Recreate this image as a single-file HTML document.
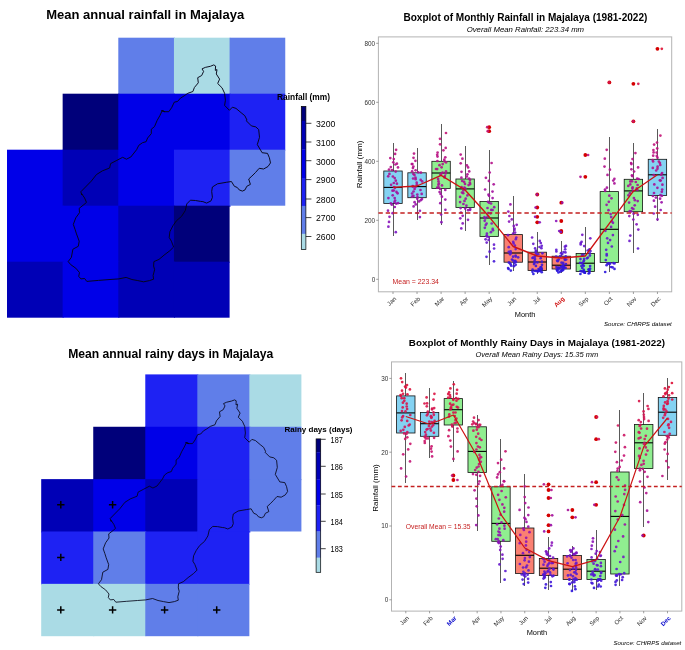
<!DOCTYPE html>
<html lang="en">
<head>
<meta charset="utf-8">
<title>Majalaya rainfall</title>
<style>
html,body{margin:0;padding:0;background:#fff;}
body{width:685px;height:650px;overflow:hidden;}
svg{display:block;font-family:"Liberation Sans", Arial, Helvetica, sans-serif;filter:blur(0.45px);}
</style>
</head>
<body>
<svg width="685" height="650" viewBox="0 0 685 650">
<rect x="0" y="0" width="685" height="650" fill="#fff"/>
<rect x="118.30" y="37.70" width="56.65" height="57.00" fill="#607EE9"/>
<rect x="173.95" y="37.70" width="56.65" height="57.00" fill="#AADBE5"/>
<rect x="229.60" y="37.70" width="55.65" height="57.00" fill="#607EE9"/>
<rect x="62.65" y="93.70" width="56.65" height="57.00" fill="#00007A"/>
<rect x="118.30" y="93.70" width="56.65" height="57.00" fill="#0000E8"/>
<rect x="173.95" y="93.70" width="56.65" height="57.00" fill="#0000E8"/>
<rect x="229.60" y="93.70" width="55.65" height="57.00" fill="#1E22F3"/>
<rect x="7.00" y="149.70" width="56.65" height="57.00" fill="#0000E8"/>
<rect x="62.65" y="149.70" width="56.65" height="57.00" fill="#0000B6"/>
<rect x="118.30" y="149.70" width="56.65" height="57.00" fill="#0000E8"/>
<rect x="173.95" y="149.70" width="56.65" height="57.00" fill="#1E22F3"/>
<rect x="229.60" y="149.70" width="55.65" height="56.00" fill="#607EE9"/>
<rect x="7.00" y="205.70" width="56.65" height="57.00" fill="#0000E8"/>
<rect x="62.65" y="205.70" width="56.65" height="57.00" fill="#0000E8"/>
<rect x="118.30" y="205.70" width="56.65" height="57.00" fill="#0000B6"/>
<rect x="173.95" y="205.70" width="55.65" height="57.00" fill="#00007A"/>
<rect x="7.00" y="261.70" width="56.65" height="56.00" fill="#0000B6"/>
<rect x="62.65" y="261.70" width="56.65" height="56.00" fill="#0000E8"/>
<rect x="118.30" y="261.70" width="56.65" height="56.00" fill="#0000B6"/>
<rect x="173.95" y="261.70" width="55.65" height="56.00" fill="#0000B6"/>
<polygon points="81.8,195.0 80.8,191.8 85.5,187.0 91.3,181.1 96.4,174.6 102.3,170.9 109.6,168.0 110.6,163.6 116.2,160.7 122.7,157.3 126.4,159.2 130.8,157.0 136.6,149.7 138.8,145.3 142.5,142.7 146.1,141.7 147.6,138.0 151.3,133.6 151.3,129.2 154.5,126.6 157.1,120.5 160.0,115.4 162.2,110.5 165.0,111.7 161.5,110.6 164.4,111.7 168.8,111.7 171.7,107.6 174.3,102.1 177.5,101.5 180.5,98.1 184.1,95.9 187.8,93.3 192.9,91.5 194.4,87.5 198.3,82.8 197.7,77.7 201.7,75.5 203.6,71.4 202.0,68.9 205.3,67.4 210.4,66.3 213.8,64.9 215.6,66.0 215.3,70.4 217.0,69.6 216.3,74.0 219.6,79.1 217.7,83.5 222.1,87.9 224.6,93.3 225.4,100.3 224.6,105.4 229.4,110.3 232.4,107.2 236.0,108.4 241.1,112.7 244.8,115.7 247.0,120.1 246.3,120.8 251.4,125.9 255.8,126.9 258.7,129.6 259.5,137.3 257.3,144.6 262.1,152.7 267.5,153.4 269.4,157.8 270.5,162.9 268.0,166.5 263.6,169.0 259.2,168.3 255.6,172.4 251.9,176.1 248.7,179.0 250.4,184.4 246.8,186.3 245.0,189.9 242.4,191.1 239.2,189.9 237.3,187.5 234.4,186.3 231.4,181.5 226.3,182.3 217.5,183.8 212.4,187.0 211.7,191.4 212.4,197.3 211.0,200.9 206.6,203.1 202.9,201.6 200.6,201.4 195.5,200.5 190.4,200.2 186.8,203.9 185.3,210.5 181.6,216.3 176.5,220.7 172.9,225.8 169.9,231.7 169.2,237.5 171.4,241.2 173.6,247.0 169.9,250.7 164.1,255.1 159.0,259.4 153.9,261.6 153.6,266.0 154.6,269.7 153.1,275.5 153.6,279.2 149.5,280.6 143.6,281.8 137.8,280.6 131.9,279.5 126.1,277.4 118.8,278.9 110.0,279.5 98.5,280.4 86.8,281.4 84.6,278.5 80.9,278.9 78.7,276.3 79.5,272.6 75.8,268.2 70.7,264.6 68.2,261.6 71.4,257.3 72.9,249.2 78.3,246.3 79.2,241.2 76.5,233.9 75.1,229.5 73.3,224.4 75.8,217.8 79.5,212.7 79.2,208.3 83.9,204.6 86.5,202.4 84.6,198.0 81.7,193.7" fill="none" stroke="#050518" stroke-width="0.95" stroke-linejoin="round"/>
<text x="145.20" y="19.20" font-size="13" font-weight="bold" font-style="normal" fill="#000" text-anchor="middle">Mean annual rainfall in Majalaya</text>
<text x="277.00" y="100.00" font-size="8.4" font-weight="bold" font-style="normal" fill="#000" text-anchor="start">Rainfall (mm)</text>
<rect x="301.3" y="106.40" width="4.6" height="14.80" fill="#00007A"/>
<rect x="301.3" y="121.00" width="4.6" height="28.80" fill="#0000B6"/>
<rect x="301.3" y="149.60" width="4.6" height="28.60" fill="#0000E8"/>
<rect x="301.3" y="178.00" width="4.6" height="28.10" fill="#1E22F3"/>
<rect x="301.3" y="205.90" width="4.6" height="28.10" fill="#607EE9"/>
<rect x="301.3" y="233.80" width="4.6" height="16.00" fill="#AADBE5"/>
<rect x="301.3" y="106.40" width="4.6" height="143.20" fill="none" stroke="#000" stroke-width="0.7"/>
<line x1="305.90000000000003" y1="123.30" x2="311.40000000000003" y2="123.30" stroke="#111" stroke-width="0.8"/>
<text transform="translate(316.00 127.10) scale(0.945 1)" x="0" y="0" font-size="9.2" fill="#000">3200</text>
<line x1="305.90000000000003" y1="142.00" x2="311.40000000000003" y2="142.00" stroke="#111" stroke-width="0.8"/>
<text transform="translate(316.00 145.80) scale(0.945 1)" x="0" y="0" font-size="9.2" fill="#000">3100</text>
<line x1="305.90000000000003" y1="160.70" x2="311.40000000000003" y2="160.70" stroke="#111" stroke-width="0.8"/>
<text transform="translate(316.00 164.50) scale(0.945 1)" x="0" y="0" font-size="9.2" fill="#000">3000</text>
<line x1="305.90000000000003" y1="179.60" x2="311.40000000000003" y2="179.60" stroke="#111" stroke-width="0.8"/>
<text transform="translate(316.00 183.40) scale(0.945 1)" x="0" y="0" font-size="9.2" fill="#000">2900</text>
<line x1="305.90000000000003" y1="199.00" x2="311.40000000000003" y2="199.00" stroke="#111" stroke-width="0.8"/>
<text transform="translate(316.00 202.80) scale(0.945 1)" x="0" y="0" font-size="9.2" fill="#000">2800</text>
<line x1="305.90000000000003" y1="217.60" x2="311.40000000000003" y2="217.60" stroke="#111" stroke-width="0.8"/>
<text transform="translate(316.00 221.40) scale(0.945 1)" x="0" y="0" font-size="9.2" fill="#000">2700</text>
<line x1="305.90000000000003" y1="236.50" x2="311.40000000000003" y2="236.50" stroke="#111" stroke-width="0.8"/>
<text transform="translate(316.00 240.30) scale(0.945 1)" x="0" y="0" font-size="9.2" fill="#000">2600</text>
<rect x="145.28" y="374.40" width="53.04" height="53.36" fill="#1E22F3"/>
<rect x="197.32" y="374.40" width="53.04" height="53.36" fill="#607EE9"/>
<rect x="249.36" y="374.40" width="52.04" height="53.36" fill="#AADBE5"/>
<rect x="93.24" y="426.76" width="53.04" height="53.36" fill="#00007A"/>
<rect x="145.28" y="426.76" width="53.04" height="53.36" fill="#0000E8"/>
<rect x="197.32" y="426.76" width="53.04" height="53.36" fill="#1E22F3"/>
<rect x="249.36" y="426.76" width="52.04" height="53.36" fill="#607EE9"/>
<rect x="41.20" y="479.12" width="53.04" height="53.36" fill="#0000B6"/>
<rect x="93.24" y="479.12" width="53.04" height="53.36" fill="#0000E8"/>
<rect x="145.28" y="479.12" width="53.04" height="53.36" fill="#0000B6"/>
<rect x="197.32" y="479.12" width="53.04" height="53.36" fill="#1E22F3"/>
<rect x="249.36" y="479.12" width="52.04" height="52.36" fill="#607EE9"/>
<rect x="41.20" y="531.48" width="53.04" height="53.36" fill="#1E22F3"/>
<rect x="93.24" y="531.48" width="53.04" height="53.36" fill="#607EE9"/>
<rect x="145.28" y="531.48" width="53.04" height="53.36" fill="#1E22F3"/>
<rect x="197.32" y="531.48" width="52.04" height="53.36" fill="#1E22F3"/>
<rect x="41.20" y="583.84" width="53.04" height="52.36" fill="#AADBE5"/>
<rect x="93.24" y="583.84" width="53.04" height="52.36" fill="#AADBE5"/>
<rect x="145.28" y="583.84" width="53.04" height="52.36" fill="#607EE9"/>
<rect x="197.32" y="583.84" width="52.04" height="52.36" fill="#607EE9"/>
<polygon points="111.2,521.5 110.2,518.5 114.6,514.0 120.0,508.5 124.8,502.4 130.3,498.9 137.1,496.2 138.1,492.1 143.3,489.4 149.4,486.2 152.9,488.0 157.0,486.0 162.4,479.1 164.5,475.0 167.9,472.6 171.3,471.6 172.7,468.2 176.1,464.1 176.1,460.0 179.1,457.5 181.6,451.8 184.3,447.0 186.4,442.5 189.0,443.6 185.6,442.5 188.4,443.6 192.5,443.6 195.2,439.8 197.7,434.6 200.7,434.0 203.4,430.9 206.8,428.9 210.3,426.4 215.0,424.7 216.4,420.9 220.1,416.5 219.5,411.8 223.2,409.7 225.0,405.9 223.5,403.6 226.7,402.2 231.4,401.1 234.6,399.9 236.2,400.8 236.0,404.9 237.6,404.2 236.9,408.3 240.1,413.1 238.3,417.2 242.4,421.3 244.7,426.4 245.4,433.0 244.7,437.7 249.2,442.2 251.9,439.4 255.4,440.5 260.2,444.6 263.6,447.3 265.6,451.4 264.9,452.1 269.7,456.9 273.8,457.8 276.6,460.3 277.3,467.5 275.3,474.4 279.8,481.9 284.8,482.6 286.6,486.7 287.6,491.5 285.3,494.9 281.2,497.2 277.0,496.5 273.6,500.3 270.2,503.8 267.2,506.5 268.8,511.6 265.4,513.3 263.8,516.7 261.3,517.8 258.3,516.7 256.5,514.4 253.8,513.3 251.1,508.8 246.3,509.6 238.1,511.0 233.3,514.0 232.6,518.1 233.3,523.6 231.9,527.0 227.8,529.0 224.4,527.7 222.3,527.5 217.5,526.6 212.7,526.4 209.3,529.8 207.9,535.9 204.5,541.4 199.7,545.5 196.3,550.3 193.6,555.8 192.9,561.2 194.9,564.6 197.0,570.1 193.6,573.5 188.1,577.6 183.3,581.7 178.5,583.8 178.3,587.9 179.2,591.3 177.8,596.8 178.3,600.2 174.4,601.6 169.0,602.6 163.5,601.6 158.0,600.5 152.6,598.5 145.7,599.9 137.5,600.5 126.7,601.3 115.8,602.2 113.8,599.5 110.3,599.9 108.3,597.5 109.0,594.0 105.6,589.9 100.8,586.5 98.4,583.8 101.5,579.7 102.8,572.2 107.9,569.4 108.7,564.6 106.2,557.8 104.9,553.7 103.2,548.9 105.6,542.8 109.0,538.0 108.7,533.9 113.1,530.5 115.5,528.4 113.8,524.3 111.0,520.2" fill="none" stroke="#050518" stroke-width="0.85" stroke-linejoin="round"/>
<text x="170.70" y="357.80" font-size="12.15" font-weight="bold" font-style="normal" fill="#000" text-anchor="middle">Mean annual rainy days in Majalaya</text>
<path d="M57.1 504.8H64.5M60.8 501.1V508.5" stroke="#000" stroke-width="1.5" fill="none"/>
<path d="M108.9 504.8H116.3M112.6 501.1V508.5" stroke="#000" stroke-width="1.5" fill="none"/>
<path d="M57.1 557.4H64.5M60.8 553.7V561.1" stroke="#000" stroke-width="1.5" fill="none"/>
<path d="M57.1 609.9H64.5M60.8 606.2V613.6" stroke="#000" stroke-width="1.5" fill="none"/>
<path d="M108.9 609.9H116.3M112.6 606.2V613.6" stroke="#000" stroke-width="1.5" fill="none"/>
<path d="M160.9 609.9H168.3M164.6 606.2V613.6" stroke="#000" stroke-width="1.5" fill="none"/>
<path d="M213.0 609.9H220.4M216.7 606.2V613.6" stroke="#000" stroke-width="1.5" fill="none"/>
<text x="284.50" y="432.30" font-size="8.0" font-weight="bold" font-style="normal" fill="#000" text-anchor="start">Rainy days (days)</text>
<rect x="316.1" y="438.90" width="4.6" height="13.50" fill="#00007A"/>
<rect x="316.1" y="452.20" width="4.6" height="27.60" fill="#0000B6"/>
<rect x="316.1" y="479.60" width="4.6" height="25.80" fill="#0000E8"/>
<rect x="316.1" y="505.20" width="4.6" height="26.50" fill="#1E22F3"/>
<rect x="316.1" y="531.50" width="4.6" height="26.40" fill="#607EE9"/>
<rect x="316.1" y="557.70" width="4.6" height="14.80" fill="#AADBE5"/>
<rect x="316.1" y="438.90" width="4.6" height="133.40" fill="none" stroke="#000" stroke-width="0.7"/>
<line x1="320.70000000000005" y1="439.30" x2="325.70000000000005" y2="439.30" stroke="#111" stroke-width="0.8"/>
<text transform="translate(330.60 442.80) scale(0.82 1)" x="0" y="0" font-size="8.9" fill="#000">187</text>
<line x1="320.70000000000005" y1="466.30" x2="325.70000000000005" y2="466.30" stroke="#111" stroke-width="0.8"/>
<text transform="translate(330.60 469.80) scale(0.82 1)" x="0" y="0" font-size="8.9" fill="#000">186</text>
<line x1="320.70000000000005" y1="494.00" x2="325.70000000000005" y2="494.00" stroke="#111" stroke-width="0.8"/>
<text transform="translate(330.60 497.50) scale(0.82 1)" x="0" y="0" font-size="8.9" fill="#000">185</text>
<line x1="320.70000000000005" y1="521.30" x2="325.70000000000005" y2="521.30" stroke="#111" stroke-width="0.8"/>
<text transform="translate(330.60 524.80) scale(0.82 1)" x="0" y="0" font-size="8.9" fill="#000">184</text>
<line x1="320.70000000000005" y1="548.70" x2="325.70000000000005" y2="548.70" stroke="#111" stroke-width="0.8"/>
<text transform="translate(330.60 552.20) scale(0.82 1)" x="0" y="0" font-size="8.9" fill="#000">183</text>
<rect x="378.4" y="36.9" width="293.30000000000007" height="254.9" fill="#fff" stroke="#b3b3b3" stroke-width="1"/>
<line x1="376.2" y1="43.30" x2="378.4" y2="43.30" stroke="#777" stroke-width="0.7"/>
<text x="375.20" y="45.60" font-size="6.4" font-weight="normal" font-style="normal" fill="#303030" text-anchor="end">800</text>
<line x1="376.2" y1="102.30" x2="378.4" y2="102.30" stroke="#777" stroke-width="0.7"/>
<text x="375.20" y="104.60" font-size="6.4" font-weight="normal" font-style="normal" fill="#303030" text-anchor="end">600</text>
<line x1="376.2" y1="161.30" x2="378.4" y2="161.30" stroke="#777" stroke-width="0.7"/>
<text x="375.20" y="163.60" font-size="6.4" font-weight="normal" font-style="normal" fill="#303030" text-anchor="end">400</text>
<line x1="376.2" y1="220.30" x2="378.4" y2="220.30" stroke="#777" stroke-width="0.7"/>
<text x="375.20" y="222.60" font-size="6.4" font-weight="normal" font-style="normal" fill="#303030" text-anchor="end">200</text>
<line x1="376.2" y1="279.30" x2="378.4" y2="279.30" stroke="#777" stroke-width="0.7"/>
<text x="375.20" y="281.60" font-size="6.4" font-weight="normal" font-style="normal" fill="#303030" text-anchor="end">0</text>
<line x1="393.00" y1="291.8" x2="393.00" y2="294.0" stroke="#777" stroke-width="0.7"/>
<text x="396.60" y="299.20" font-size="6.2" font-weight="normal" font-style="normal" fill="#303030" text-anchor="end" transform="rotate(-45 396.60 299.20)">Jan</text>
<line x1="417.04" y1="291.8" x2="417.04" y2="294.0" stroke="#777" stroke-width="0.7"/>
<text x="420.64" y="299.20" font-size="6.2" font-weight="normal" font-style="normal" fill="#303030" text-anchor="end" transform="rotate(-45 420.64 299.20)">Feb</text>
<line x1="441.08" y1="291.8" x2="441.08" y2="294.0" stroke="#777" stroke-width="0.7"/>
<text x="444.68" y="299.20" font-size="6.2" font-weight="normal" font-style="normal" fill="#303030" text-anchor="end" transform="rotate(-45 444.68 299.20)">Mar</text>
<line x1="465.12" y1="291.8" x2="465.12" y2="294.0" stroke="#777" stroke-width="0.7"/>
<text x="468.72" y="299.20" font-size="6.2" font-weight="normal" font-style="normal" fill="#303030" text-anchor="end" transform="rotate(-45 468.72 299.20)">Apr</text>
<line x1="489.16" y1="291.8" x2="489.16" y2="294.0" stroke="#777" stroke-width="0.7"/>
<text x="492.76" y="299.20" font-size="6.2" font-weight="normal" font-style="normal" fill="#303030" text-anchor="end" transform="rotate(-45 492.76 299.20)">May</text>
<line x1="513.20" y1="291.8" x2="513.20" y2="294.0" stroke="#777" stroke-width="0.7"/>
<text x="516.80" y="299.20" font-size="6.2" font-weight="normal" font-style="normal" fill="#303030" text-anchor="end" transform="rotate(-45 516.80 299.20)">Jun</text>
<line x1="537.24" y1="291.8" x2="537.24" y2="294.0" stroke="#777" stroke-width="0.7"/>
<text x="540.84" y="299.20" font-size="6.2" font-weight="normal" font-style="normal" fill="#303030" text-anchor="end" transform="rotate(-45 540.84 299.20)">Jul</text>
<line x1="561.28" y1="291.8" x2="561.28" y2="294.0" stroke="#777" stroke-width="0.7"/>
<text x="564.88" y="299.20" font-size="6.1" font-weight="bold" font-style="normal" fill="#d11414" text-anchor="end" transform="rotate(-45 564.88 299.20)">Aug</text>
<line x1="585.32" y1="291.8" x2="585.32" y2="294.0" stroke="#777" stroke-width="0.7"/>
<text x="588.92" y="299.20" font-size="6.2" font-weight="normal" font-style="normal" fill="#303030" text-anchor="end" transform="rotate(-45 588.92 299.20)">Sep</text>
<line x1="609.36" y1="291.8" x2="609.36" y2="294.0" stroke="#777" stroke-width="0.7"/>
<text x="612.96" y="299.20" font-size="6.2" font-weight="normal" font-style="normal" fill="#303030" text-anchor="end" transform="rotate(-45 612.96 299.20)">Oct</text>
<line x1="633.40" y1="291.8" x2="633.40" y2="294.0" stroke="#777" stroke-width="0.7"/>
<text x="637.00" y="299.20" font-size="6.2" font-weight="normal" font-style="normal" fill="#303030" text-anchor="end" transform="rotate(-45 637.00 299.20)">Nov</text>
<line x1="657.44" y1="291.8" x2="657.44" y2="294.0" stroke="#777" stroke-width="0.7"/>
<text x="661.04" y="299.20" font-size="6.2" font-weight="normal" font-style="normal" fill="#303030" text-anchor="end" transform="rotate(-45 661.04 299.20)">Dec</text>
<line x1="393.00" y1="143.2" x2="393.00" y2="171.0" stroke="#5a5a5a" stroke-width="1" shape-rendering="crispEdges"/>
<line x1="393.00" y1="203.4" x2="393.00" y2="235.8" stroke="#5a5a5a" stroke-width="1" shape-rendering="crispEdges"/>
<rect x="383.80" y="171.0" width="18.4" height="32.4" fill="#84D2F2" stroke="#111" stroke-width="0.8"/>
<line x1="383.80" y1="187.4" x2="402.20" y2="187.4" stroke="#000" stroke-width="1.1"/>
<line x1="417.04" y1="148.2" x2="417.04" y2="172.8" stroke="#5a5a5a" stroke-width="1" shape-rendering="crispEdges"/>
<line x1="417.04" y1="197.7" x2="417.04" y2="220.3" stroke="#5a5a5a" stroke-width="1" shape-rendering="crispEdges"/>
<rect x="407.84" y="172.8" width="18.4" height="24.9" fill="#84D2F2" stroke="#111" stroke-width="0.8"/>
<line x1="407.84" y1="186.6" x2="426.24" y2="186.6" stroke="#000" stroke-width="1.1"/>
<line x1="441.08" y1="123.9" x2="441.08" y2="161.3" stroke="#5a5a5a" stroke-width="1" shape-rendering="crispEdges"/>
<line x1="441.08" y1="188.4" x2="441.08" y2="225.0" stroke="#5a5a5a" stroke-width="1" shape-rendering="crispEdges"/>
<rect x="431.88" y="161.3" width="18.4" height="27.1" fill="#90EE90" stroke="#111" stroke-width="0.8"/>
<line x1="431.88" y1="173.0" x2="450.28" y2="173.0" stroke="#000" stroke-width="1.1"/>
<line x1="465.12" y1="146.2" x2="465.12" y2="179.0" stroke="#5a5a5a" stroke-width="1" shape-rendering="crispEdges"/>
<line x1="465.12" y1="207.5" x2="465.12" y2="230.8" stroke="#5a5a5a" stroke-width="1" shape-rendering="crispEdges"/>
<rect x="455.92" y="179.0" width="18.4" height="28.5" fill="#90EE90" stroke="#111" stroke-width="0.8"/>
<line x1="455.92" y1="188.9" x2="474.32" y2="188.9" stroke="#000" stroke-width="1.1"/>
<line x1="489.16" y1="150.2" x2="489.16" y2="201.4" stroke="#5a5a5a" stroke-width="1" shape-rendering="crispEdges"/>
<line x1="489.16" y1="236.6" x2="489.16" y2="265.3" stroke="#5a5a5a" stroke-width="1" shape-rendering="crispEdges"/>
<rect x="479.96" y="201.4" width="18.4" height="35.2" fill="#90EE90" stroke="#111" stroke-width="0.8"/>
<line x1="479.96" y1="218.0" x2="498.36" y2="218.0" stroke="#000" stroke-width="1.1"/>
<line x1="513.20" y1="195.7" x2="513.20" y2="234.6" stroke="#5a5a5a" stroke-width="1" shape-rendering="crispEdges"/>
<line x1="513.20" y1="262.2" x2="513.20" y2="271.0" stroke="#5a5a5a" stroke-width="1" shape-rendering="crispEdges"/>
<rect x="504.00" y="234.6" width="18.4" height="27.6" fill="#FA8072" stroke="#111" stroke-width="0.8"/>
<line x1="504.00" y1="253.0" x2="522.40" y2="253.0" stroke="#000" stroke-width="1.1"/>
<line x1="537.24" y1="232.0" x2="537.24" y2="252.2" stroke="#5a5a5a" stroke-width="1" shape-rendering="crispEdges"/>
<line x1="537.24" y1="270.5" x2="537.24" y2="273.5" stroke="#5a5a5a" stroke-width="1" shape-rendering="crispEdges"/>
<rect x="528.04" y="252.2" width="18.4" height="18.3" fill="#FA8072" stroke="#111" stroke-width="0.8"/>
<line x1="528.04" y1="262.0" x2="546.44" y2="262.0" stroke="#000" stroke-width="1.1"/>
<line x1="561.28" y1="240.9" x2="561.28" y2="256.2" stroke="#5a5a5a" stroke-width="1" shape-rendering="crispEdges"/>
<line x1="561.28" y1="269.0" x2="561.28" y2="273.0" stroke="#5a5a5a" stroke-width="1" shape-rendering="crispEdges"/>
<rect x="552.08" y="256.2" width="18.4" height="12.8" fill="#FA8072" stroke="#111" stroke-width="0.8"/>
<line x1="552.08" y1="265.2" x2="570.48" y2="265.2" stroke="#000" stroke-width="1.1"/>
<line x1="585.32" y1="227.0" x2="585.32" y2="253.4" stroke="#5a5a5a" stroke-width="1" shape-rendering="crispEdges"/>
<line x1="585.32" y1="271.5" x2="585.32" y2="274.0" stroke="#5a5a5a" stroke-width="1" shape-rendering="crispEdges"/>
<rect x="576.12" y="253.4" width="18.4" height="18.1" fill="#90EE90" stroke="#111" stroke-width="0.8"/>
<line x1="576.12" y1="263.2" x2="594.52" y2="263.2" stroke="#000" stroke-width="1.1"/>
<line x1="609.36" y1="137.0" x2="609.36" y2="191.6" stroke="#5a5a5a" stroke-width="1" shape-rendering="crispEdges"/>
<line x1="609.36" y1="262.5" x2="609.36" y2="272.3" stroke="#5a5a5a" stroke-width="1" shape-rendering="crispEdges"/>
<rect x="600.16" y="191.6" width="18.4" height="70.9" fill="#90EE90" stroke="#111" stroke-width="0.8"/>
<line x1="600.16" y1="229.3" x2="618.56" y2="229.3" stroke="#000" stroke-width="1.1"/>
<line x1="633.40" y1="143.2" x2="633.40" y2="179.3" stroke="#5a5a5a" stroke-width="1" shape-rendering="crispEdges"/>
<line x1="633.40" y1="211.7" x2="633.40" y2="253.4" stroke="#5a5a5a" stroke-width="1" shape-rendering="crispEdges"/>
<rect x="624.20" y="179.3" width="18.4" height="32.4" fill="#90EE90" stroke="#111" stroke-width="0.8"/>
<line x1="624.20" y1="190.9" x2="642.60" y2="190.9" stroke="#000" stroke-width="1.1"/>
<line x1="657.44" y1="128.9" x2="657.44" y2="159.3" stroke="#5a5a5a" stroke-width="1" shape-rendering="crispEdges"/>
<line x1="657.44" y1="195.4" x2="657.44" y2="221.3" stroke="#5a5a5a" stroke-width="1" shape-rendering="crispEdges"/>
<rect x="648.24" y="159.3" width="18.4" height="36.1" fill="#84D2F2" stroke="#111" stroke-width="0.8"/>
<line x1="648.24" y1="174.8" x2="666.64" y2="174.8" stroke="#000" stroke-width="1.1"/>
<circle cx="489.16" cy="127.2" r="1.9" fill="#d40000"/>
<circle cx="489.16" cy="131.2" r="1.9" fill="#d40000"/>
<circle cx="537.24" cy="194.5" r="1.9" fill="#d40000"/>
<circle cx="537.24" cy="207.5" r="1.9" fill="#d40000"/>
<circle cx="537.24" cy="216.8" r="1.9" fill="#d40000"/>
<circle cx="537.24" cy="222.3" r="1.9" fill="#d40000"/>
<circle cx="561.28" cy="202.7" r="1.9" fill="#d40000"/>
<circle cx="561.28" cy="221.0" r="1.9" fill="#d40000"/>
<circle cx="561.28" cy="231.0" r="1.9" fill="#d40000"/>
<circle cx="561.28" cy="232.0" r="1.9" fill="#d40000"/>
<circle cx="585.32" cy="155.0" r="1.9" fill="#d40000"/>
<circle cx="585.32" cy="176.8" r="1.9" fill="#d40000"/>
<circle cx="609.36" cy="82.4" r="1.9" fill="#d40000"/>
<circle cx="633.40" cy="83.8" r="1.9" fill="#d40000"/>
<circle cx="633.40" cy="121.3" r="1.9" fill="#d40000"/>
<circle cx="657.44" cy="48.8" r="1.9" fill="#d40000"/>
<circle cx="396.1" cy="149.8" r="1.35" fill="#bc1380" fill-opacity="0.9"/>
<circle cx="395.1" cy="153.9" r="1.35" fill="#ba1282" fill-opacity="0.9"/>
<circle cx="390.3" cy="158.1" r="1.35" fill="#b71285" fill-opacity="0.9"/>
<circle cx="393.8" cy="159.1" r="1.35" fill="#b71286" fill-opacity="0.9"/>
<circle cx="393.3" cy="162.3" r="1.35" fill="#b51188" fill-opacity="0.9"/>
<circle cx="396.9" cy="163.7" r="1.35" fill="#b41188" fill-opacity="0.9"/>
<circle cx="395.4" cy="164.5" r="1.35" fill="#b41189" fill-opacity="0.9"/>
<circle cx="390.8" cy="167.1" r="1.35" fill="#b2118b" fill-opacity="0.9"/>
<circle cx="398.0" cy="167.4" r="1.35" fill="#b2118b" fill-opacity="0.9"/>
<circle cx="389.0" cy="169.6" r="1.35" fill="#b1118c" fill-opacity="0.9"/>
<circle cx="392.1" cy="170.0" r="1.35" fill="#b1118d" fill-opacity="0.9"/>
<circle cx="395.7" cy="171.6" r="1.35" fill="#b0108e" fill-opacity="0.9"/>
<circle cx="389.4" cy="173.9" r="1.35" fill="#ae108f" fill-opacity="0.9"/>
<circle cx="392.9" cy="176.5" r="1.35" fill="#ad1091" fill-opacity="0.9"/>
<circle cx="388.2" cy="176.3" r="1.35" fill="#ad1091" fill-opacity="0.9"/>
<circle cx="394.7" cy="178.1" r="1.35" fill="#ac1092" fill-opacity="0.9"/>
<circle cx="395.8" cy="180.7" r="1.35" fill="#aa0f93" fill-opacity="0.9"/>
<circle cx="393.8" cy="183.0" r="1.35" fill="#a90f95" fill-opacity="0.9"/>
<circle cx="396.9" cy="183.7" r="1.35" fill="#a90f95" fill-opacity="0.9"/>
<circle cx="391.1" cy="184.8" r="1.35" fill="#a80f96" fill-opacity="0.9"/>
<circle cx="395.0" cy="187.8" r="1.35" fill="#a60f99" fill-opacity="0.9"/>
<circle cx="394.0" cy="187.1" r="1.35" fill="#a60f98" fill-opacity="0.9"/>
<circle cx="393.8" cy="190.5" r="1.35" fill="#a4109c" fill-opacity="0.9"/>
<circle cx="392.5" cy="190.7" r="1.35" fill="#a3109c" fill-opacity="0.9"/>
<circle cx="396.5" cy="191.9" r="1.35" fill="#a2109d" fill-opacity="0.9"/>
<circle cx="397.6" cy="193.3" r="1.35" fill="#a1109e" fill-opacity="0.9"/>
<circle cx="392.7" cy="195.3" r="1.35" fill="#a010a0" fill-opacity="0.9"/>
<circle cx="394.7" cy="198.1" r="1.35" fill="#9e11a3" fill-opacity="0.9"/>
<circle cx="388.4" cy="198.1" r="1.35" fill="#9e11a3" fill-opacity="0.9"/>
<circle cx="395.1" cy="200.5" r="1.35" fill="#9c11a5" fill-opacity="0.9"/>
<circle cx="394.5" cy="202.2" r="1.35" fill="#9a11a7" fill-opacity="0.9"/>
<circle cx="398.1" cy="203.1" r="1.35" fill="#9a12a8" fill-opacity="0.9"/>
<circle cx="396.3" cy="203.7" r="1.35" fill="#9912a9" fill-opacity="0.9"/>
<circle cx="390.8" cy="203.3" r="1.35" fill="#9912a8" fill-opacity="0.9"/>
<circle cx="391.8" cy="204.7" r="1.35" fill="#9812aa" fill-opacity="0.9"/>
<circle cx="394.8" cy="207.0" r="1.35" fill="#9712ac" fill-opacity="0.9"/>
<circle cx="388.0" cy="210.7" r="1.35" fill="#9413af" fill-opacity="0.9"/>
<circle cx="392.6" cy="213.2" r="1.35" fill="#9213b2" fill-opacity="0.9"/>
<circle cx="389.5" cy="216.8" r="1.35" fill="#8f14b6" fill-opacity="0.9"/>
<circle cx="389.0" cy="221.9" r="1.35" fill="#8914ba" fill-opacity="0.9"/>
<circle cx="388.4" cy="226.7" r="1.35" fill="#8215be" fill-opacity="0.9"/>
<circle cx="395.8" cy="232.2" r="1.35" fill="#7916c3" fill-opacity="0.9"/>
<circle cx="414.0" cy="153.6" r="1.35" fill="#ba1282" fill-opacity="0.9"/>
<circle cx="413.5" cy="157.8" r="1.35" fill="#b71285" fill-opacity="0.9"/>
<circle cx="415.4" cy="160.8" r="1.35" fill="#b61287" fill-opacity="0.9"/>
<circle cx="412.4" cy="164.1" r="1.35" fill="#b41189" fill-opacity="0.9"/>
<circle cx="411.8" cy="164.0" r="1.35" fill="#b41189" fill-opacity="0.9"/>
<circle cx="413.4" cy="166.5" r="1.35" fill="#b3118a" fill-opacity="0.9"/>
<circle cx="412.9" cy="168.1" r="1.35" fill="#b2118b" fill-opacity="0.9"/>
<circle cx="415.6" cy="170.3" r="1.35" fill="#b0118d" fill-opacity="0.9"/>
<circle cx="412.1" cy="171.3" r="1.35" fill="#b0108d" fill-opacity="0.9"/>
<circle cx="420.9" cy="172.6" r="1.35" fill="#af108e" fill-opacity="0.9"/>
<circle cx="418.2" cy="172.3" r="1.35" fill="#af108e" fill-opacity="0.9"/>
<circle cx="413.4" cy="173.9" r="1.35" fill="#ae108f" fill-opacity="0.9"/>
<circle cx="414.5" cy="175.1" r="1.35" fill="#ae1090" fill-opacity="0.9"/>
<circle cx="415.5" cy="177.7" r="1.35" fill="#ac1091" fill-opacity="0.9"/>
<circle cx="415.6" cy="179.2" r="1.35" fill="#ab1092" fill-opacity="0.9"/>
<circle cx="413.1" cy="178.5" r="1.35" fill="#ac1092" fill-opacity="0.9"/>
<circle cx="420.7" cy="179.9" r="1.35" fill="#ab1093" fill-opacity="0.9"/>
<circle cx="422.2" cy="181.4" r="1.35" fill="#aa0f94" fill-opacity="0.9"/>
<circle cx="416.7" cy="182.7" r="1.35" fill="#a90f95" fill-opacity="0.9"/>
<circle cx="416.9" cy="184.6" r="1.35" fill="#a80f96" fill-opacity="0.9"/>
<circle cx="412.7" cy="186.2" r="1.35" fill="#a70f97" fill-opacity="0.9"/>
<circle cx="412.9" cy="186.6" r="1.35" fill="#a70f98" fill-opacity="0.9"/>
<circle cx="415.4" cy="187.0" r="1.35" fill="#a60f98" fill-opacity="0.9"/>
<circle cx="414.6" cy="189.0" r="1.35" fill="#a5109a" fill-opacity="0.9"/>
<circle cx="420.5" cy="190.0" r="1.35" fill="#a4109b" fill-opacity="0.9"/>
<circle cx="413.5" cy="191.5" r="1.35" fill="#a3109d" fill-opacity="0.9"/>
<circle cx="412.1" cy="193.5" r="1.35" fill="#a1109f" fill-opacity="0.9"/>
<circle cx="421.7" cy="193.9" r="1.35" fill="#a1109f" fill-opacity="0.9"/>
<circle cx="417.3" cy="194.6" r="1.35" fill="#a010a0" fill-opacity="0.9"/>
<circle cx="413.4" cy="195.9" r="1.35" fill="#9f11a1" fill-opacity="0.9"/>
<circle cx="417.5" cy="197.1" r="1.35" fill="#9e11a2" fill-opacity="0.9"/>
<circle cx="412.1" cy="196.6" r="1.35" fill="#9f11a2" fill-opacity="0.9"/>
<circle cx="417.3" cy="198.8" r="1.35" fill="#9d11a4" fill-opacity="0.9"/>
<circle cx="422.0" cy="199.1" r="1.35" fill="#9d11a4" fill-opacity="0.9"/>
<circle cx="420.8" cy="200.2" r="1.35" fill="#9c11a5" fill-opacity="0.9"/>
<circle cx="419.1" cy="201.4" r="1.35" fill="#9b11a6" fill-opacity="0.9"/>
<circle cx="414.6" cy="202.2" r="1.35" fill="#9a11a7" fill-opacity="0.9"/>
<circle cx="415.7" cy="204.4" r="1.35" fill="#9912a9" fill-opacity="0.9"/>
<circle cx="413.6" cy="206.4" r="1.35" fill="#9712ab" fill-opacity="0.9"/>
<circle cx="419.9" cy="210.8" r="1.35" fill="#9413b0" fill-opacity="0.9"/>
<circle cx="417.4" cy="213.0" r="1.35" fill="#9213b2" fill-opacity="0.9"/>
<circle cx="419.9" cy="217.1" r="1.35" fill="#8f14b6" fill-opacity="0.9"/>
<circle cx="446.0" cy="133.0" r="1.35" fill="#c51475" fill-opacity="0.9"/>
<circle cx="440.0" cy="138.8" r="1.35" fill="#c21479" fill-opacity="0.9"/>
<circle cx="440.1" cy="144.3" r="1.35" fill="#bf137c" fill-opacity="0.9"/>
<circle cx="445.7" cy="147.9" r="1.35" fill="#bd137e" fill-opacity="0.9"/>
<circle cx="443.4" cy="150.3" r="1.35" fill="#bc1380" fill-opacity="0.9"/>
<circle cx="437.6" cy="152.6" r="1.35" fill="#ba1281" fill-opacity="0.9"/>
<circle cx="437.2" cy="154.8" r="1.35" fill="#b91283" fill-opacity="0.9"/>
<circle cx="437.5" cy="156.6" r="1.35" fill="#b81284" fill-opacity="0.9"/>
<circle cx="445.3" cy="157.3" r="1.35" fill="#b81284" fill-opacity="0.9"/>
<circle cx="444.3" cy="159.7" r="1.35" fill="#b61286" fill-opacity="0.9"/>
<circle cx="437.4" cy="161.0" r="1.35" fill="#b61287" fill-opacity="0.9"/>
<circle cx="444.5" cy="161.3" r="1.35" fill="#b61287" fill-opacity="0.9"/>
<circle cx="446.1" cy="162.4" r="1.35" fill="#b51188" fill-opacity="0.9"/>
<circle cx="442.7" cy="164.1" r="1.35" fill="#b41189" fill-opacity="0.9"/>
<circle cx="439.5" cy="165.2" r="1.35" fill="#b31189" fill-opacity="0.9"/>
<circle cx="441.6" cy="167.3" r="1.35" fill="#b2118b" fill-opacity="0.9"/>
<circle cx="437.2" cy="169.1" r="1.35" fill="#b1118c" fill-opacity="0.9"/>
<circle cx="436.0" cy="169.0" r="1.35" fill="#b1118c" fill-opacity="0.9"/>
<circle cx="446.0" cy="171.3" r="1.35" fill="#b0108d" fill-opacity="0.9"/>
<circle cx="442.6" cy="172.5" r="1.35" fill="#af108e" fill-opacity="0.9"/>
<circle cx="441.4" cy="173.5" r="1.35" fill="#af108f" fill-opacity="0.9"/>
<circle cx="445.6" cy="173.4" r="1.35" fill="#af108f" fill-opacity="0.9"/>
<circle cx="440.4" cy="174.5" r="1.35" fill="#ae108f" fill-opacity="0.9"/>
<circle cx="444.9" cy="176.0" r="1.35" fill="#ad1090" fill-opacity="0.9"/>
<circle cx="444.5" cy="177.4" r="1.35" fill="#ac1091" fill-opacity="0.9"/>
<circle cx="438.1" cy="178.9" r="1.35" fill="#ab1092" fill-opacity="0.9"/>
<circle cx="438.5" cy="181.4" r="1.35" fill="#aa0f94" fill-opacity="0.9"/>
<circle cx="438.9" cy="183.5" r="1.35" fill="#a90f95" fill-opacity="0.9"/>
<circle cx="438.4" cy="184.8" r="1.35" fill="#a80f96" fill-opacity="0.9"/>
<circle cx="442.0" cy="185.4" r="1.35" fill="#a80f97" fill-opacity="0.9"/>
<circle cx="438.6" cy="187.3" r="1.35" fill="#a60f98" fill-opacity="0.9"/>
<circle cx="440.2" cy="189.1" r="1.35" fill="#a5109a" fill-opacity="0.9"/>
<circle cx="437.2" cy="187.7" r="1.35" fill="#a60f99" fill-opacity="0.9"/>
<circle cx="445.3" cy="189.9" r="1.35" fill="#a4109b" fill-opacity="0.9"/>
<circle cx="439.6" cy="192.0" r="1.35" fill="#a2109d" fill-opacity="0.9"/>
<circle cx="440.6" cy="193.9" r="1.35" fill="#a1109f" fill-opacity="0.9"/>
<circle cx="441.9" cy="196.7" r="1.35" fill="#9f11a2" fill-opacity="0.9"/>
<circle cx="445.3" cy="199.6" r="1.35" fill="#9c11a5" fill-opacity="0.9"/>
<circle cx="440.3" cy="203.2" r="1.35" fill="#9912a8" fill-opacity="0.9"/>
<circle cx="445.4" cy="209.8" r="1.35" fill="#9413af" fill-opacity="0.9"/>
<circle cx="441.1" cy="214.5" r="1.35" fill="#9113b3" fill-opacity="0.9"/>
<circle cx="441.4" cy="222.2" r="1.35" fill="#8914bb" fill-opacity="0.9"/>
<circle cx="460.7" cy="154.6" r="1.35" fill="#b91283" fill-opacity="0.9"/>
<circle cx="462.4" cy="158.7" r="1.35" fill="#b71285" fill-opacity="0.9"/>
<circle cx="460.7" cy="163.3" r="1.35" fill="#b41188" fill-opacity="0.9"/>
<circle cx="466.9" cy="165.4" r="1.35" fill="#b3118a" fill-opacity="0.9"/>
<circle cx="468.1" cy="167.4" r="1.35" fill="#b2118b" fill-opacity="0.9"/>
<circle cx="469.2" cy="171.4" r="1.35" fill="#b0108d" fill-opacity="0.9"/>
<circle cx="461.5" cy="171.8" r="1.35" fill="#af108e" fill-opacity="0.9"/>
<circle cx="467.4" cy="174.3" r="1.35" fill="#ae108f" fill-opacity="0.9"/>
<circle cx="466.8" cy="176.6" r="1.35" fill="#ad1091" fill-opacity="0.9"/>
<circle cx="461.4" cy="177.7" r="1.35" fill="#ac1091" fill-opacity="0.9"/>
<circle cx="469.1" cy="178.6" r="1.35" fill="#ac1092" fill-opacity="0.9"/>
<circle cx="470.0" cy="180.0" r="1.35" fill="#ab1093" fill-opacity="0.9"/>
<circle cx="462.2" cy="181.0" r="1.35" fill="#aa0f94" fill-opacity="0.9"/>
<circle cx="469.8" cy="182.5" r="1.35" fill="#a90f94" fill-opacity="0.9"/>
<circle cx="464.1" cy="181.8" r="1.35" fill="#aa0f94" fill-opacity="0.9"/>
<circle cx="465.0" cy="183.9" r="1.35" fill="#a90f95" fill-opacity="0.9"/>
<circle cx="470.2" cy="184.1" r="1.35" fill="#a80f95" fill-opacity="0.9"/>
<circle cx="468.6" cy="185.1" r="1.35" fill="#a80f96" fill-opacity="0.9"/>
<circle cx="461.6" cy="187.2" r="1.35" fill="#a60f98" fill-opacity="0.9"/>
<circle cx="464.4" cy="187.5" r="1.35" fill="#a60f99" fill-opacity="0.9"/>
<circle cx="465.3" cy="188.6" r="1.35" fill="#a5109a" fill-opacity="0.9"/>
<circle cx="463.4" cy="190.4" r="1.35" fill="#a4109b" fill-opacity="0.9"/>
<circle cx="462.0" cy="192.5" r="1.35" fill="#a2109e" fill-opacity="0.9"/>
<circle cx="463.2" cy="193.2" r="1.35" fill="#a1109e" fill-opacity="0.9"/>
<circle cx="467.4" cy="195.4" r="1.35" fill="#a010a0" fill-opacity="0.9"/>
<circle cx="460.1" cy="196.9" r="1.35" fill="#9f11a2" fill-opacity="0.9"/>
<circle cx="465.7" cy="198.7" r="1.35" fill="#9d11a4" fill-opacity="0.9"/>
<circle cx="464.5" cy="200.9" r="1.35" fill="#9b11a6" fill-opacity="0.9"/>
<circle cx="460.1" cy="202.1" r="1.35" fill="#9a11a7" fill-opacity="0.9"/>
<circle cx="463.4" cy="204.0" r="1.35" fill="#9912a9" fill-opacity="0.9"/>
<circle cx="466.4" cy="205.7" r="1.35" fill="#9812ab" fill-opacity="0.9"/>
<circle cx="465.2" cy="208.6" r="1.35" fill="#9512ad" fill-opacity="0.9"/>
<circle cx="460.6" cy="208.1" r="1.35" fill="#9612ad" fill-opacity="0.9"/>
<circle cx="470.2" cy="209.1" r="1.35" fill="#9512ae" fill-opacity="0.9"/>
<circle cx="468.1" cy="210.2" r="1.35" fill="#9413af" fill-opacity="0.9"/>
<circle cx="470.0" cy="210.0" r="1.35" fill="#9413af" fill-opacity="0.9"/>
<circle cx="461.0" cy="212.5" r="1.35" fill="#9213b1" fill-opacity="0.9"/>
<circle cx="462.7" cy="215.8" r="1.35" fill="#9013b5" fill-opacity="0.9"/>
<circle cx="460.3" cy="218.3" r="1.35" fill="#8e14b7" fill-opacity="0.9"/>
<circle cx="468.0" cy="219.8" r="1.35" fill="#8c14b8" fill-opacity="0.9"/>
<circle cx="462.7" cy="223.4" r="1.35" fill="#8715bc" fill-opacity="0.9"/>
<circle cx="461.3" cy="228.4" r="1.35" fill="#7f15c0" fill-opacity="0.9"/>
<circle cx="491.6" cy="163.0" r="1.35" fill="#b51188" fill-opacity="0.9"/>
<circle cx="489.7" cy="172.5" r="1.35" fill="#af108e" fill-opacity="0.9"/>
<circle cx="485.9" cy="177.8" r="1.35" fill="#ac1091" fill-opacity="0.9"/>
<circle cx="488.9" cy="180.9" r="1.35" fill="#aa0f93" fill-opacity="0.9"/>
<circle cx="493.7" cy="184.3" r="1.35" fill="#a80f96" fill-opacity="0.9"/>
<circle cx="485.1" cy="189.5" r="1.35" fill="#a4109b" fill-opacity="0.9"/>
<circle cx="492.5" cy="191.6" r="1.35" fill="#a3109d" fill-opacity="0.9"/>
<circle cx="488.5" cy="194.7" r="1.35" fill="#a010a0" fill-opacity="0.9"/>
<circle cx="489.1" cy="195.8" r="1.35" fill="#9f11a1" fill-opacity="0.9"/>
<circle cx="492.6" cy="198.1" r="1.35" fill="#9e11a3" fill-opacity="0.9"/>
<circle cx="488.0" cy="201.9" r="1.35" fill="#9b11a7" fill-opacity="0.9"/>
<circle cx="489.2" cy="202.8" r="1.35" fill="#9a12a8" fill-opacity="0.9"/>
<circle cx="491.1" cy="203.5" r="1.35" fill="#9912a8" fill-opacity="0.9"/>
<circle cx="494.2" cy="207.2" r="1.35" fill="#9612ac" fill-opacity="0.9"/>
<circle cx="487.5" cy="208.0" r="1.35" fill="#9612ad" fill-opacity="0.9"/>
<circle cx="492.6" cy="210.0" r="1.35" fill="#9413af" fill-opacity="0.9"/>
<circle cx="491.3" cy="209.9" r="1.35" fill="#9413af" fill-opacity="0.9"/>
<circle cx="490.6" cy="213.3" r="1.35" fill="#9213b2" fill-opacity="0.9"/>
<circle cx="488.2" cy="213.0" r="1.35" fill="#9213b2" fill-opacity="0.9"/>
<circle cx="487.6" cy="216.5" r="1.35" fill="#8f13b5" fill-opacity="0.9"/>
<circle cx="484.5" cy="217.1" r="1.35" fill="#8f14b6" fill-opacity="0.9"/>
<circle cx="485.3" cy="218.5" r="1.35" fill="#8d14b7" fill-opacity="0.9"/>
<circle cx="484.7" cy="220.8" r="1.35" fill="#8b14b9" fill-opacity="0.9"/>
<circle cx="491.7" cy="223.5" r="1.35" fill="#8715bc" fill-opacity="0.9"/>
<circle cx="486.6" cy="223.6" r="1.35" fill="#8715bc" fill-opacity="0.9"/>
<circle cx="485.7" cy="225.1" r="1.35" fill="#8415bd" fill-opacity="0.9"/>
<circle cx="484.8" cy="227.8" r="1.35" fill="#8015bf" fill-opacity="0.9"/>
<circle cx="492.7" cy="228.9" r="1.35" fill="#7e15c0" fill-opacity="0.9"/>
<circle cx="493.0" cy="230.3" r="1.35" fill="#7c16c1" fill-opacity="0.9"/>
<circle cx="490.9" cy="232.2" r="1.35" fill="#7916c3" fill-opacity="0.9"/>
<circle cx="486.9" cy="233.7" r="1.35" fill="#7616c4" fill-opacity="0.9"/>
<circle cx="486.5" cy="235.9" r="1.35" fill="#7317c6" fill-opacity="0.9"/>
<circle cx="487.0" cy="236.4" r="1.35" fill="#7217c6" fill-opacity="0.9"/>
<circle cx="488.7" cy="237.0" r="1.35" fill="#7117c7" fill-opacity="0.9"/>
<circle cx="485.6" cy="239.3" r="1.35" fill="#6d17c8" fill-opacity="0.9"/>
<circle cx="488.6" cy="239.9" r="1.35" fill="#6c17c9" fill-opacity="0.9"/>
<circle cx="486.7" cy="242.6" r="1.35" fill="#6818cb" fill-opacity="0.9"/>
<circle cx="494.0" cy="244.7" r="1.35" fill="#6418cd" fill-opacity="0.9"/>
<circle cx="494.1" cy="248.5" r="1.35" fill="#5e19d0" fill-opacity="0.9"/>
<circle cx="489.6" cy="251.7" r="1.35" fill="#5819d2" fill-opacity="0.9"/>
<circle cx="486.5" cy="256.8" r="1.35" fill="#4d18d5" fill-opacity="0.9"/>
<circle cx="494.0" cy="261.3" r="1.35" fill="#4217d7" fill-opacity="0.9"/>
<circle cx="487.2" cy="127.2" r="1.35" fill="#c71470" fill-opacity="0.9"/>
<circle cx="487.7" cy="131.2" r="1.35" fill="#c51473" fill-opacity="0.9"/>
<circle cx="510.4" cy="204.4" r="1.35" fill="#9912a9" fill-opacity="0.9"/>
<circle cx="508.3" cy="211.6" r="1.35" fill="#9313b0" fill-opacity="0.9"/>
<circle cx="509.4" cy="216.0" r="1.35" fill="#8f13b5" fill-opacity="0.9"/>
<circle cx="511.8" cy="219.4" r="1.35" fill="#8d14b8" fill-opacity="0.9"/>
<circle cx="509.1" cy="221.6" r="1.35" fill="#8a14ba" fill-opacity="0.9"/>
<circle cx="516.7" cy="224.8" r="1.35" fill="#8515bd" fill-opacity="0.9"/>
<circle cx="513.8" cy="225.9" r="1.35" fill="#8315be" fill-opacity="0.9"/>
<circle cx="514.5" cy="228.6" r="1.35" fill="#7f15c0" fill-opacity="0.9"/>
<circle cx="514.5" cy="230.1" r="1.35" fill="#7c16c1" fill-opacity="0.9"/>
<circle cx="515.1" cy="232.6" r="1.35" fill="#7816c3" fill-opacity="0.9"/>
<circle cx="513.1" cy="233.5" r="1.35" fill="#7616c4" fill-opacity="0.9"/>
<circle cx="508.0" cy="235.2" r="1.35" fill="#7416c5" fill-opacity="0.9"/>
<circle cx="516.3" cy="237.6" r="1.35" fill="#7017c7" fill-opacity="0.9"/>
<circle cx="515.8" cy="239.2" r="1.35" fill="#6d17c8" fill-opacity="0.9"/>
<circle cx="513.2" cy="241.8" r="1.35" fill="#6918cb" fill-opacity="0.9"/>
<circle cx="513.6" cy="243.4" r="1.35" fill="#6618cc" fill-opacity="0.9"/>
<circle cx="514.9" cy="245.7" r="1.35" fill="#6318ce" fill-opacity="0.9"/>
<circle cx="508.7" cy="247.2" r="1.35" fill="#6018cf" fill-opacity="0.9"/>
<circle cx="515.7" cy="249.1" r="1.35" fill="#5d19d0" fill-opacity="0.9"/>
<circle cx="510.6" cy="251.3" r="1.35" fill="#5919d2" fill-opacity="0.9"/>
<circle cx="508.8" cy="251.9" r="1.35" fill="#5819d2" fill-opacity="0.9"/>
<circle cx="510.8" cy="253.0" r="1.35" fill="#5519d3" fill-opacity="0.9"/>
<circle cx="515.6" cy="255.5" r="1.35" fill="#5018d4" fill-opacity="0.9"/>
<circle cx="510.1" cy="254.3" r="1.35" fill="#5218d4" fill-opacity="0.9"/>
<circle cx="515.7" cy="256.6" r="1.35" fill="#4d18d5" fill-opacity="0.9"/>
<circle cx="518.1" cy="257.3" r="1.35" fill="#4c18d5" fill-opacity="0.9"/>
<circle cx="513.1" cy="256.7" r="1.35" fill="#4d18d5" fill-opacity="0.9"/>
<circle cx="512.0" cy="259.5" r="1.35" fill="#4617d7" fill-opacity="0.9"/>
<circle cx="513.0" cy="260.5" r="1.35" fill="#4417d7" fill-opacity="0.9"/>
<circle cx="515.1" cy="260.8" r="1.35" fill="#4417d7" fill-opacity="0.9"/>
<circle cx="516.0" cy="261.9" r="1.35" fill="#4117d8" fill-opacity="0.9"/>
<circle cx="514.4" cy="262.9" r="1.35" fill="#3f17d8" fill-opacity="0.9"/>
<circle cx="514.7" cy="261.4" r="1.35" fill="#4217d8" fill-opacity="0.9"/>
<circle cx="508.8" cy="262.5" r="1.35" fill="#3f17d8" fill-opacity="0.9"/>
<circle cx="509.5" cy="262.8" r="1.35" fill="#3f17d8" fill-opacity="0.9"/>
<circle cx="510.6" cy="264.2" r="1.35" fill="#3c17d9" fill-opacity="0.9"/>
<circle cx="515.7" cy="264.8" r="1.35" fill="#3a17d9" fill-opacity="0.9"/>
<circle cx="511.2" cy="265.7" r="1.35" fill="#3816da" fill-opacity="0.9"/>
<circle cx="513.9" cy="266.2" r="1.35" fill="#3716da" fill-opacity="0.9"/>
<circle cx="508.1" cy="268.1" r="1.35" fill="#3316db" fill-opacity="0.9"/>
<circle cx="508.6" cy="269.0" r="1.35" fill="#3116dc" fill-opacity="0.9"/>
<circle cx="510.8" cy="270.6" r="1.35" fill="#2d16dc" fill-opacity="0.9"/>
<circle cx="532.1" cy="237.5" r="1.35" fill="#7017c7" fill-opacity="0.9"/>
<circle cx="539.8" cy="240.9" r="1.35" fill="#6a17ca" fill-opacity="0.9"/>
<circle cx="540.8" cy="243.0" r="1.35" fill="#6718cc" fill-opacity="0.9"/>
<circle cx="533.3" cy="243.8" r="1.35" fill="#6618cc" fill-opacity="0.9"/>
<circle cx="541.7" cy="245.8" r="1.35" fill="#6218ce" fill-opacity="0.9"/>
<circle cx="539.5" cy="247.0" r="1.35" fill="#6018cf" fill-opacity="0.9"/>
<circle cx="541.4" cy="248.2" r="1.35" fill="#5f19d0" fill-opacity="0.9"/>
<circle cx="535.1" cy="248.4" r="1.35" fill="#5e19d0" fill-opacity="0.9"/>
<circle cx="535.9" cy="251.3" r="1.35" fill="#5919d2" fill-opacity="0.9"/>
<circle cx="536.1" cy="250.6" r="1.35" fill="#5b19d2" fill-opacity="0.9"/>
<circle cx="542.4" cy="253.3" r="1.35" fill="#5519d3" fill-opacity="0.9"/>
<circle cx="538.2" cy="254.2" r="1.35" fill="#5318d4" fill-opacity="0.9"/>
<circle cx="535.8" cy="252.9" r="1.35" fill="#5619d3" fill-opacity="0.9"/>
<circle cx="536.5" cy="254.9" r="1.35" fill="#5118d4" fill-opacity="0.9"/>
<circle cx="534.9" cy="256.7" r="1.35" fill="#4d18d5" fill-opacity="0.9"/>
<circle cx="532.5" cy="258.0" r="1.35" fill="#4a18d6" fill-opacity="0.9"/>
<circle cx="533.1" cy="257.7" r="1.35" fill="#4b18d6" fill-opacity="0.9"/>
<circle cx="540.7" cy="258.2" r="1.35" fill="#4918d6" fill-opacity="0.9"/>
<circle cx="535.0" cy="259.0" r="1.35" fill="#4818d6" fill-opacity="0.9"/>
<circle cx="541.8" cy="261.7" r="1.35" fill="#4117d8" fill-opacity="0.9"/>
<circle cx="534.6" cy="260.8" r="1.35" fill="#4317d7" fill-opacity="0.9"/>
<circle cx="534.8" cy="262.6" r="1.35" fill="#3f17d8" fill-opacity="0.9"/>
<circle cx="537.4" cy="262.4" r="1.35" fill="#4017d8" fill-opacity="0.9"/>
<circle cx="534.0" cy="264.1" r="1.35" fill="#3c17d9" fill-opacity="0.9"/>
<circle cx="535.9" cy="265.9" r="1.35" fill="#3816da" fill-opacity="0.9"/>
<circle cx="542.0" cy="264.8" r="1.35" fill="#3a17d9" fill-opacity="0.9"/>
<circle cx="541.2" cy="267.2" r="1.35" fill="#3516db" fill-opacity="0.9"/>
<circle cx="540.5" cy="267.3" r="1.35" fill="#3516db" fill-opacity="0.9"/>
<circle cx="538.6" cy="269.0" r="1.35" fill="#3116dc" fill-opacity="0.9"/>
<circle cx="541.5" cy="269.4" r="1.35" fill="#3016dc" fill-opacity="0.9"/>
<circle cx="541.8" cy="269.0" r="1.35" fill="#3116dc" fill-opacity="0.9"/>
<circle cx="537.8" cy="271.5" r="1.35" fill="#2b15dd" fill-opacity="0.9"/>
<circle cx="539.5" cy="270.5" r="1.35" fill="#2d16dc" fill-opacity="0.9"/>
<circle cx="532.6" cy="269.5" r="1.35" fill="#3016dc" fill-opacity="0.9"/>
<circle cx="539.7" cy="269.5" r="1.35" fill="#2f16dc" fill-opacity="0.9"/>
<circle cx="536.7" cy="270.9" r="1.35" fill="#2c15dd" fill-opacity="0.9"/>
<circle cx="539.9" cy="271.0" r="1.35" fill="#2c15dd" fill-opacity="0.9"/>
<circle cx="538.7" cy="271.0" r="1.35" fill="#2c15dd" fill-opacity="0.9"/>
<circle cx="535.0" cy="270.9" r="1.35" fill="#2c15dd" fill-opacity="0.9"/>
<circle cx="532.5" cy="271.8" r="1.35" fill="#2a15dd" fill-opacity="0.9"/>
<circle cx="541.7" cy="272.2" r="1.35" fill="#2915dd" fill-opacity="0.9"/>
<circle cx="533.4" cy="274.0" r="1.35" fill="#2515de" fill-opacity="0.9"/>
<circle cx="537.0" cy="194.5" r="1.35" fill="#a0109f" fill-opacity="0.9"/>
<circle cx="535.6" cy="207.5" r="1.35" fill="#9612ac" fill-opacity="0.9"/>
<circle cx="535.1" cy="216.8" r="1.35" fill="#8f14b6" fill-opacity="0.9"/>
<circle cx="539.7" cy="222.3" r="1.35" fill="#8914bb" fill-opacity="0.9"/>
<circle cx="566.0" cy="245.9" r="1.35" fill="#6218ce" fill-opacity="0.9"/>
<circle cx="564.9" cy="246.7" r="1.35" fill="#6118cf" fill-opacity="0.9"/>
<circle cx="565.2" cy="249.3" r="1.35" fill="#5d19d1" fill-opacity="0.9"/>
<circle cx="556.3" cy="249.8" r="1.35" fill="#5c19d1" fill-opacity="0.9"/>
<circle cx="556.4" cy="251.5" r="1.35" fill="#5919d2" fill-opacity="0.9"/>
<circle cx="563.5" cy="252.1" r="1.35" fill="#5719d3" fill-opacity="0.9"/>
<circle cx="565.4" cy="252.4" r="1.35" fill="#5719d3" fill-opacity="0.9"/>
<circle cx="561.0" cy="253.2" r="1.35" fill="#5519d3" fill-opacity="0.9"/>
<circle cx="562.2" cy="254.1" r="1.35" fill="#5318d4" fill-opacity="0.9"/>
<circle cx="556.1" cy="256.5" r="1.35" fill="#4d18d5" fill-opacity="0.9"/>
<circle cx="560.2" cy="256.2" r="1.35" fill="#4e18d5" fill-opacity="0.9"/>
<circle cx="565.7" cy="256.4" r="1.35" fill="#4e18d5" fill-opacity="0.9"/>
<circle cx="564.7" cy="258.9" r="1.35" fill="#4818d6" fill-opacity="0.9"/>
<circle cx="565.0" cy="260.0" r="1.35" fill="#4517d7" fill-opacity="0.9"/>
<circle cx="566.2" cy="259.5" r="1.35" fill="#4617d7" fill-opacity="0.9"/>
<circle cx="558.7" cy="259.6" r="1.35" fill="#4617d7" fill-opacity="0.9"/>
<circle cx="557.2" cy="260.6" r="1.35" fill="#4417d7" fill-opacity="0.9"/>
<circle cx="557.7" cy="261.2" r="1.35" fill="#4317d7" fill-opacity="0.9"/>
<circle cx="561.5" cy="262.7" r="1.35" fill="#3f17d8" fill-opacity="0.9"/>
<circle cx="563.2" cy="262.9" r="1.35" fill="#3f17d8" fill-opacity="0.9"/>
<circle cx="565.9" cy="264.1" r="1.35" fill="#3c17d9" fill-opacity="0.9"/>
<circle cx="563.6" cy="264.8" r="1.35" fill="#3a17d9" fill-opacity="0.9"/>
<circle cx="562.8" cy="265.9" r="1.35" fill="#3816da" fill-opacity="0.9"/>
<circle cx="564.0" cy="267.0" r="1.35" fill="#3516db" fill-opacity="0.9"/>
<circle cx="560.8" cy="267.1" r="1.35" fill="#3516db" fill-opacity="0.9"/>
<circle cx="561.8" cy="266.6" r="1.35" fill="#3616da" fill-opacity="0.9"/>
<circle cx="556.5" cy="267.0" r="1.35" fill="#3516da" fill-opacity="0.9"/>
<circle cx="564.2" cy="267.6" r="1.35" fill="#3416db" fill-opacity="0.9"/>
<circle cx="558.5" cy="267.6" r="1.35" fill="#3416db" fill-opacity="0.9"/>
<circle cx="565.6" cy="267.9" r="1.35" fill="#3316db" fill-opacity="0.9"/>
<circle cx="562.8" cy="267.6" r="1.35" fill="#3416db" fill-opacity="0.9"/>
<circle cx="559.2" cy="268.5" r="1.35" fill="#3216db" fill-opacity="0.9"/>
<circle cx="557.4" cy="270.2" r="1.35" fill="#2e16dc" fill-opacity="0.9"/>
<circle cx="558.7" cy="268.2" r="1.35" fill="#3216db" fill-opacity="0.9"/>
<circle cx="562.7" cy="269.3" r="1.35" fill="#3016dc" fill-opacity="0.9"/>
<circle cx="563.3" cy="269.8" r="1.35" fill="#2f16dc" fill-opacity="0.9"/>
<circle cx="557.2" cy="270.7" r="1.35" fill="#2d16dc" fill-opacity="0.9"/>
<circle cx="556.8" cy="269.6" r="1.35" fill="#2f16dc" fill-opacity="0.9"/>
<circle cx="561.5" cy="270.2" r="1.35" fill="#2e16dc" fill-opacity="0.9"/>
<circle cx="562.1" cy="270.7" r="1.35" fill="#2d16dc" fill-opacity="0.9"/>
<circle cx="560.1" cy="271.7" r="1.35" fill="#2b15dd" fill-opacity="0.9"/>
<circle cx="558.4" cy="272.5" r="1.35" fill="#2915dd" fill-opacity="0.9"/>
<circle cx="562.3" cy="202.7" r="1.35" fill="#9a12a8" fill-opacity="0.9"/>
<circle cx="556.2" cy="221.0" r="1.35" fill="#8b14ba" fill-opacity="0.9"/>
<circle cx="559.2" cy="231.0" r="1.35" fill="#7b16c2" fill-opacity="0.9"/>
<circle cx="560.9" cy="232.0" r="1.35" fill="#7916c3" fill-opacity="0.9"/>
<circle cx="582.3" cy="234.8" r="1.35" fill="#7416c5" fill-opacity="0.9"/>
<circle cx="590.3" cy="238.3" r="1.35" fill="#6f17c8" fill-opacity="0.9"/>
<circle cx="581.6" cy="241.8" r="1.35" fill="#6917ca" fill-opacity="0.9"/>
<circle cx="580.7" cy="243.0" r="1.35" fill="#6718cc" fill-opacity="0.9"/>
<circle cx="580.7" cy="244.4" r="1.35" fill="#6518cd" fill-opacity="0.9"/>
<circle cx="584.2" cy="246.1" r="1.35" fill="#6218ce" fill-opacity="0.9"/>
<circle cx="589.5" cy="249.4" r="1.35" fill="#5d19d1" fill-opacity="0.9"/>
<circle cx="589.3" cy="250.2" r="1.35" fill="#5b19d1" fill-opacity="0.9"/>
<circle cx="587.7" cy="250.5" r="1.35" fill="#5b19d2" fill-opacity="0.9"/>
<circle cx="590.5" cy="251.1" r="1.35" fill="#5a19d2" fill-opacity="0.9"/>
<circle cx="589.8" cy="253.4" r="1.35" fill="#5419d3" fill-opacity="0.9"/>
<circle cx="583.5" cy="254.8" r="1.35" fill="#5118d4" fill-opacity="0.9"/>
<circle cx="582.0" cy="255.1" r="1.35" fill="#5118d4" fill-opacity="0.9"/>
<circle cx="589.9" cy="255.6" r="1.35" fill="#4f18d4" fill-opacity="0.9"/>
<circle cx="587.9" cy="257.5" r="1.35" fill="#4b18d5" fill-opacity="0.9"/>
<circle cx="580.5" cy="259.1" r="1.35" fill="#4718d6" fill-opacity="0.9"/>
<circle cx="587.0" cy="258.3" r="1.35" fill="#4918d6" fill-opacity="0.9"/>
<circle cx="584.1" cy="258.8" r="1.35" fill="#4818d6" fill-opacity="0.9"/>
<circle cx="584.0" cy="260.5" r="1.35" fill="#4417d7" fill-opacity="0.9"/>
<circle cx="583.6" cy="261.6" r="1.35" fill="#4217d8" fill-opacity="0.9"/>
<circle cx="581.9" cy="263.2" r="1.35" fill="#3e17d8" fill-opacity="0.9"/>
<circle cx="580.1" cy="262.9" r="1.35" fill="#3f17d8" fill-opacity="0.9"/>
<circle cx="583.0" cy="265.1" r="1.35" fill="#3a17d9" fill-opacity="0.9"/>
<circle cx="583.8" cy="265.8" r="1.35" fill="#3816da" fill-opacity="0.9"/>
<circle cx="590.1" cy="266.0" r="1.35" fill="#3816da" fill-opacity="0.9"/>
<circle cx="581.4" cy="266.0" r="1.35" fill="#3716da" fill-opacity="0.9"/>
<circle cx="590.1" cy="268.7" r="1.35" fill="#3116db" fill-opacity="0.9"/>
<circle cx="582.3" cy="267.9" r="1.35" fill="#3316db" fill-opacity="0.9"/>
<circle cx="583.8" cy="269.9" r="1.35" fill="#2f16dc" fill-opacity="0.9"/>
<circle cx="588.7" cy="269.3" r="1.35" fill="#3016dc" fill-opacity="0.9"/>
<circle cx="588.7" cy="270.0" r="1.35" fill="#2e16dc" fill-opacity="0.9"/>
<circle cx="584.6" cy="272.1" r="1.35" fill="#2915dd" fill-opacity="0.9"/>
<circle cx="580.6" cy="271.0" r="1.35" fill="#2c15dd" fill-opacity="0.9"/>
<circle cx="585.0" cy="272.7" r="1.35" fill="#2815dd" fill-opacity="0.9"/>
<circle cx="584.0" cy="271.7" r="1.35" fill="#2b15dd" fill-opacity="0.9"/>
<circle cx="589.7" cy="271.1" r="1.35" fill="#2c15dd" fill-opacity="0.9"/>
<circle cx="582.1" cy="271.4" r="1.35" fill="#2b15dd" fill-opacity="0.9"/>
<circle cx="583.9" cy="272.1" r="1.35" fill="#2a15dd" fill-opacity="0.9"/>
<circle cx="589.4" cy="273.0" r="1.35" fill="#2815de" fill-opacity="0.9"/>
<circle cx="580.4" cy="274.0" r="1.35" fill="#2515de" fill-opacity="0.9"/>
<circle cx="584.4" cy="272.5" r="1.35" fill="#2915dd" fill-opacity="0.9"/>
<circle cx="588.6" cy="273.5" r="1.35" fill="#2615de" fill-opacity="0.9"/>
<circle cx="588.1" cy="155.0" r="1.35" fill="#b91283" fill-opacity="0.9"/>
<circle cx="580.5" cy="176.8" r="1.35" fill="#ad1091" fill-opacity="0.9"/>
<circle cx="606.7" cy="149.8" r="1.35" fill="#bc1380" fill-opacity="0.9"/>
<circle cx="604.8" cy="158.7" r="1.35" fill="#b71285" fill-opacity="0.9"/>
<circle cx="604.5" cy="166.6" r="1.35" fill="#b2118a" fill-opacity="0.9"/>
<circle cx="609.9" cy="169.7" r="1.35" fill="#b1118c" fill-opacity="0.9"/>
<circle cx="607.5" cy="174.9" r="1.35" fill="#ae1090" fill-opacity="0.9"/>
<circle cx="614.4" cy="178.8" r="1.35" fill="#ac1092" fill-opacity="0.9"/>
<circle cx="613.3" cy="180.6" r="1.35" fill="#aa0f93" fill-opacity="0.9"/>
<circle cx="614.4" cy="183.4" r="1.35" fill="#a90f95" fill-opacity="0.9"/>
<circle cx="606.9" cy="187.7" r="1.35" fill="#a60f99" fill-opacity="0.9"/>
<circle cx="605.0" cy="189.5" r="1.35" fill="#a4109b" fill-opacity="0.9"/>
<circle cx="605.2" cy="191.0" r="1.35" fill="#a3109c" fill-opacity="0.9"/>
<circle cx="609.3" cy="195.7" r="1.35" fill="#9f11a1" fill-opacity="0.9"/>
<circle cx="611.5" cy="198.3" r="1.35" fill="#9d11a3" fill-opacity="0.9"/>
<circle cx="608.8" cy="201.8" r="1.35" fill="#9b11a7" fill-opacity="0.9"/>
<circle cx="606.6" cy="204.8" r="1.35" fill="#9812aa" fill-opacity="0.9"/>
<circle cx="608.5" cy="210.2" r="1.35" fill="#9413af" fill-opacity="0.9"/>
<circle cx="610.6" cy="214.1" r="1.35" fill="#9113b3" fill-opacity="0.9"/>
<circle cx="611.2" cy="217.1" r="1.35" fill="#8f14b6" fill-opacity="0.9"/>
<circle cx="611.9" cy="221.4" r="1.35" fill="#8a14ba" fill-opacity="0.9"/>
<circle cx="613.0" cy="222.8" r="1.35" fill="#8814bb" fill-opacity="0.9"/>
<circle cx="611.1" cy="226.9" r="1.35" fill="#8115be" fill-opacity="0.9"/>
<circle cx="605.4" cy="230.8" r="1.35" fill="#7b16c2" fill-opacity="0.9"/>
<circle cx="612.9" cy="235.1" r="1.35" fill="#7416c5" fill-opacity="0.9"/>
<circle cx="607.2" cy="238.3" r="1.35" fill="#6f17c8" fill-opacity="0.9"/>
<circle cx="610.1" cy="240.1" r="1.35" fill="#6c17c9" fill-opacity="0.9"/>
<circle cx="608.0" cy="242.9" r="1.35" fill="#6718cb" fill-opacity="0.9"/>
<circle cx="611.8" cy="246.5" r="1.35" fill="#6118ce" fill-opacity="0.9"/>
<circle cx="606.2" cy="249.8" r="1.35" fill="#5c19d1" fill-opacity="0.9"/>
<circle cx="606.7" cy="254.0" r="1.35" fill="#5318d4" fill-opacity="0.9"/>
<circle cx="606.7" cy="255.4" r="1.35" fill="#5018d4" fill-opacity="0.9"/>
<circle cx="605.8" cy="260.1" r="1.35" fill="#4517d7" fill-opacity="0.9"/>
<circle cx="613.4" cy="263.1" r="1.35" fill="#3e17d8" fill-opacity="0.9"/>
<circle cx="610.2" cy="263.3" r="1.35" fill="#3e17d9" fill-opacity="0.9"/>
<circle cx="607.6" cy="263.5" r="1.35" fill="#3d17d9" fill-opacity="0.9"/>
<circle cx="608.3" cy="263.5" r="1.35" fill="#3d17d9" fill-opacity="0.9"/>
<circle cx="614.5" cy="263.4" r="1.35" fill="#3e17d9" fill-opacity="0.9"/>
<circle cx="609.4" cy="264.1" r="1.35" fill="#3c17d9" fill-opacity="0.9"/>
<circle cx="606.6" cy="265.2" r="1.35" fill="#3916da" fill-opacity="0.9"/>
<circle cx="612.6" cy="267.4" r="1.35" fill="#3416db" fill-opacity="0.9"/>
<circle cx="611.0" cy="267.0" r="1.35" fill="#3516da" fill-opacity="0.9"/>
<circle cx="614.5" cy="268.9" r="1.35" fill="#3116db" fill-opacity="0.9"/>
<circle cx="605.2" cy="272.0" r="1.35" fill="#2a15dd" fill-opacity="0.9"/>
<circle cx="609.1" cy="82.4" r="1.35" fill="#d6154e" fill-opacity="0.9"/>
<circle cx="635.4" cy="153.1" r="1.35" fill="#ba1282" fill-opacity="0.9"/>
<circle cx="632.5" cy="159.1" r="1.35" fill="#b71286" fill-opacity="0.9"/>
<circle cx="631.1" cy="163.1" r="1.35" fill="#b41188" fill-opacity="0.9"/>
<circle cx="631.4" cy="164.1" r="1.35" fill="#b41189" fill-opacity="0.9"/>
<circle cx="638.1" cy="167.4" r="1.35" fill="#b2118b" fill-opacity="0.9"/>
<circle cx="631.4" cy="169.3" r="1.35" fill="#b1118c" fill-opacity="0.9"/>
<circle cx="634.1" cy="171.5" r="1.35" fill="#b0108e" fill-opacity="0.9"/>
<circle cx="631.9" cy="175.4" r="1.35" fill="#ad1090" fill-opacity="0.9"/>
<circle cx="632.5" cy="176.2" r="1.35" fill="#ad1090" fill-opacity="0.9"/>
<circle cx="637.2" cy="178.7" r="1.35" fill="#ac1092" fill-opacity="0.9"/>
<circle cx="638.6" cy="179.0" r="1.35" fill="#ab1092" fill-opacity="0.9"/>
<circle cx="632.0" cy="181.3" r="1.35" fill="#aa0f94" fill-opacity="0.9"/>
<circle cx="630.3" cy="181.4" r="1.35" fill="#aa0f94" fill-opacity="0.9"/>
<circle cx="635.8" cy="182.0" r="1.35" fill="#aa0f94" fill-opacity="0.9"/>
<circle cx="630.3" cy="184.4" r="1.35" fill="#a80f96" fill-opacity="0.9"/>
<circle cx="628.3" cy="185.9" r="1.35" fill="#a70f97" fill-opacity="0.9"/>
<circle cx="637.6" cy="185.0" r="1.35" fill="#a80f96" fill-opacity="0.9"/>
<circle cx="632.6" cy="187.3" r="1.35" fill="#a60f98" fill-opacity="0.9"/>
<circle cx="636.7" cy="188.4" r="1.35" fill="#a50f99" fill-opacity="0.9"/>
<circle cx="632.4" cy="188.6" r="1.35" fill="#a5109a" fill-opacity="0.9"/>
<circle cx="637.4" cy="190.0" r="1.35" fill="#a4109b" fill-opacity="0.9"/>
<circle cx="633.0" cy="191.0" r="1.35" fill="#a3109c" fill-opacity="0.9"/>
<circle cx="629.9" cy="193.2" r="1.35" fill="#a1109e" fill-opacity="0.9"/>
<circle cx="628.4" cy="195.3" r="1.35" fill="#a010a0" fill-opacity="0.9"/>
<circle cx="633.9" cy="198.1" r="1.35" fill="#9e11a3" fill-opacity="0.9"/>
<circle cx="634.9" cy="200.2" r="1.35" fill="#9c11a5" fill-opacity="0.9"/>
<circle cx="637.7" cy="201.1" r="1.35" fill="#9b11a6" fill-opacity="0.9"/>
<circle cx="629.1" cy="202.6" r="1.35" fill="#9a12a8" fill-opacity="0.9"/>
<circle cx="634.7" cy="205.3" r="1.35" fill="#9812aa" fill-opacity="0.9"/>
<circle cx="632.1" cy="208.2" r="1.35" fill="#9612ad" fill-opacity="0.9"/>
<circle cx="633.4" cy="209.0" r="1.35" fill="#9512ae" fill-opacity="0.9"/>
<circle cx="629.7" cy="211.2" r="1.35" fill="#9313b0" fill-opacity="0.9"/>
<circle cx="631.1" cy="211.3" r="1.35" fill="#9313b0" fill-opacity="0.9"/>
<circle cx="633.6" cy="213.7" r="1.35" fill="#9113b2" fill-opacity="0.9"/>
<circle cx="637.8" cy="214.8" r="1.35" fill="#9013b4" fill-opacity="0.9"/>
<circle cx="629.3" cy="216.1" r="1.35" fill="#8f13b5" fill-opacity="0.9"/>
<circle cx="633.3" cy="219.5" r="1.35" fill="#8d14b8" fill-opacity="0.9"/>
<circle cx="636.6" cy="224.3" r="1.35" fill="#8515bc" fill-opacity="0.9"/>
<circle cx="638.3" cy="229.6" r="1.35" fill="#7d16c1" fill-opacity="0.9"/>
<circle cx="630.3" cy="235.6" r="1.35" fill="#7316c5" fill-opacity="0.9"/>
<circle cx="629.5" cy="240.9" r="1.35" fill="#6a17ca" fill-opacity="0.9"/>
<circle cx="638.0" cy="248.5" r="1.35" fill="#5e19d0" fill-opacity="0.9"/>
<circle cx="638.3" cy="83.8" r="1.35" fill="#d6154f" fill-opacity="0.9"/>
<circle cx="633.2" cy="121.3" r="1.35" fill="#c9156c" fill-opacity="0.9"/>
<circle cx="660.4" cy="135.6" r="1.35" fill="#c41476" fill-opacity="0.9"/>
<circle cx="657.0" cy="142.6" r="1.35" fill="#c0137b" fill-opacity="0.9"/>
<circle cx="654.1" cy="144.6" r="1.35" fill="#bf137c" fill-opacity="0.9"/>
<circle cx="657.2" cy="148.4" r="1.35" fill="#bd137f" fill-opacity="0.9"/>
<circle cx="653.4" cy="150.0" r="1.35" fill="#bc1380" fill-opacity="0.9"/>
<circle cx="653.6" cy="152.4" r="1.35" fill="#bb1281" fill-opacity="0.9"/>
<circle cx="656.7" cy="152.6" r="1.35" fill="#ba1281" fill-opacity="0.9"/>
<circle cx="653.2" cy="155.7" r="1.35" fill="#b91283" fill-opacity="0.9"/>
<circle cx="656.8" cy="155.9" r="1.35" fill="#b91284" fill-opacity="0.9"/>
<circle cx="657.5" cy="157.7" r="1.35" fill="#b81285" fill-opacity="0.9"/>
<circle cx="652.7" cy="160.1" r="1.35" fill="#b61286" fill-opacity="0.9"/>
<circle cx="658.9" cy="161.6" r="1.35" fill="#b51187" fill-opacity="0.9"/>
<circle cx="653.1" cy="161.5" r="1.35" fill="#b51187" fill-opacity="0.9"/>
<circle cx="659.9" cy="163.1" r="1.35" fill="#b41188" fill-opacity="0.9"/>
<circle cx="660.3" cy="165.0" r="1.35" fill="#b31189" fill-opacity="0.9"/>
<circle cx="657.6" cy="166.7" r="1.35" fill="#b2118a" fill-opacity="0.9"/>
<circle cx="652.8" cy="167.9" r="1.35" fill="#b2118b" fill-opacity="0.9"/>
<circle cx="657.5" cy="168.7" r="1.35" fill="#b1118c" fill-opacity="0.9"/>
<circle cx="656.2" cy="170.5" r="1.35" fill="#b0118d" fill-opacity="0.9"/>
<circle cx="662.1" cy="173.1" r="1.35" fill="#af108f" fill-opacity="0.9"/>
<circle cx="653.7" cy="175.0" r="1.35" fill="#ae1090" fill-opacity="0.9"/>
<circle cx="661.2" cy="174.7" r="1.35" fill="#ae1090" fill-opacity="0.9"/>
<circle cx="662.6" cy="177.9" r="1.35" fill="#ac1092" fill-opacity="0.9"/>
<circle cx="659.9" cy="180.3" r="1.35" fill="#ab0f93" fill-opacity="0.9"/>
<circle cx="660.7" cy="180.6" r="1.35" fill="#aa0f93" fill-opacity="0.9"/>
<circle cx="654.3" cy="184.4" r="1.35" fill="#a80f96" fill-opacity="0.9"/>
<circle cx="662.4" cy="184.7" r="1.35" fill="#a80f96" fill-opacity="0.9"/>
<circle cx="657.4" cy="187.8" r="1.35" fill="#a60f99" fill-opacity="0.9"/>
<circle cx="662.2" cy="189.6" r="1.35" fill="#a4109b" fill-opacity="0.9"/>
<circle cx="661.8" cy="191.8" r="1.35" fill="#a3109d" fill-opacity="0.9"/>
<circle cx="654.0" cy="193.0" r="1.35" fill="#a2109e" fill-opacity="0.9"/>
<circle cx="660.4" cy="195.2" r="1.35" fill="#a010a0" fill-opacity="0.9"/>
<circle cx="661.9" cy="195.8" r="1.35" fill="#9f11a1" fill-opacity="0.9"/>
<circle cx="652.9" cy="196.0" r="1.35" fill="#9f11a1" fill-opacity="0.9"/>
<circle cx="655.9" cy="197.6" r="1.35" fill="#9e11a3" fill-opacity="0.9"/>
<circle cx="660.1" cy="198.7" r="1.35" fill="#9d11a4" fill-opacity="0.9"/>
<circle cx="653.9" cy="200.7" r="1.35" fill="#9b11a6" fill-opacity="0.9"/>
<circle cx="661.6" cy="202.3" r="1.35" fill="#9a11a7" fill-opacity="0.9"/>
<circle cx="655.1" cy="206.7" r="1.35" fill="#9712ac" fill-opacity="0.9"/>
<circle cx="660.7" cy="210.0" r="1.35" fill="#9413af" fill-opacity="0.9"/>
<circle cx="653.7" cy="213.5" r="1.35" fill="#9113b2" fill-opacity="0.9"/>
<circle cx="657.5" cy="219.4" r="1.35" fill="#8d14b8" fill-opacity="0.9"/>
<circle cx="661.8" cy="48.8" r="1.35" fill="#df1032" fill-opacity="0.9"/>
<line x1="378.4" y1="213.0" x2="671.7" y2="213.0" stroke="#c42020" stroke-width="1.4" stroke-dasharray="4.4 2.9"/>
<polyline points="393.0,187.4 417.0,186.0 441.1,175.4 465.1,190.0 489.2,216.8 513.2,246.5 537.2,256.0 561.3,258.0 585.3,256.0 609.4,223.3 633.4,191.2 657.4,174.8" fill="none" stroke="#cc1212" stroke-width="1.35" stroke-linejoin="round"/>
<text x="525.40" y="21.30" font-size="10.05" font-weight="bold" font-style="normal" fill="#000" text-anchor="middle">Boxplot of Monthly Rainfall in Majalaya (1981-2022)</text>
<text x="525.40" y="32.20" font-size="7.77" font-weight="normal" font-style="italic" fill="#000" text-anchor="middle">Overall Mean Rainfall: 223.34 mm</text>
<text x="392.50" y="283.60" font-size="6.94" font-weight="normal" font-style="normal" fill="#c62222" text-anchor="start">Mean = 223.34</text>
<text x="361.80" y="164.40" font-size="8.0" font-weight="normal" font-style="normal" fill="#000" text-anchor="middle" transform="rotate(-90 361.80 164.40)">Rainfall (mm)</text>
<text x="525.10" y="317.00" font-size="7.4" font-weight="normal" font-style="normal" fill="#000" text-anchor="middle">Month</text>
<text x="671.80" y="326.40" font-size="6.15" font-weight="normal" font-style="italic" fill="#000" text-anchor="end">Source: CHIRPS dataset</text>
<rect x="391.5" y="361.9" width="290.29999999999995" height="249.20000000000005" fill="#fff" stroke="#b3b3b3" stroke-width="1"/>
<line x1="389.3" y1="378.40" x2="391.5" y2="378.40" stroke="#777" stroke-width="0.7"/>
<text x="388.30" y="380.70" font-size="6.4" font-weight="normal" font-style="normal" fill="#303030" text-anchor="end">30</text>
<line x1="389.3" y1="452.20" x2="391.5" y2="452.20" stroke="#777" stroke-width="0.7"/>
<text x="388.30" y="454.50" font-size="6.4" font-weight="normal" font-style="normal" fill="#303030" text-anchor="end">20</text>
<line x1="389.3" y1="526.00" x2="391.5" y2="526.00" stroke="#777" stroke-width="0.7"/>
<text x="388.30" y="528.30" font-size="6.4" font-weight="normal" font-style="normal" fill="#303030" text-anchor="end">10</text>
<line x1="389.3" y1="599.80" x2="391.5" y2="599.80" stroke="#777" stroke-width="0.7"/>
<text x="388.30" y="602.10" font-size="6.4" font-weight="normal" font-style="normal" fill="#303030" text-anchor="end">0</text>
<line x1="405.80" y1="611.1" x2="405.80" y2="613.3000000000001" stroke="#777" stroke-width="0.7"/>
<text x="409.40" y="618.50" font-size="6.2" font-weight="normal" font-style="normal" fill="#303030" text-anchor="end" transform="rotate(-45 409.40 618.50)">Jan</text>
<line x1="429.59" y1="611.1" x2="429.59" y2="613.3000000000001" stroke="#777" stroke-width="0.7"/>
<text x="433.19" y="618.50" font-size="6.2" font-weight="normal" font-style="normal" fill="#303030" text-anchor="end" transform="rotate(-45 433.19 618.50)">Feb</text>
<line x1="453.38" y1="611.1" x2="453.38" y2="613.3000000000001" stroke="#777" stroke-width="0.7"/>
<text x="456.98" y="618.50" font-size="6.1" font-weight="bold" font-style="normal" fill="#0a0acc" text-anchor="end" transform="rotate(-45 456.98 618.50)">Mar</text>
<line x1="477.17" y1="611.1" x2="477.17" y2="613.3000000000001" stroke="#777" stroke-width="0.7"/>
<text x="480.77" y="618.50" font-size="6.2" font-weight="normal" font-style="normal" fill="#303030" text-anchor="end" transform="rotate(-45 480.77 618.50)">Apr</text>
<line x1="500.96" y1="611.1" x2="500.96" y2="613.3000000000001" stroke="#777" stroke-width="0.7"/>
<text x="504.56" y="618.50" font-size="6.2" font-weight="normal" font-style="normal" fill="#303030" text-anchor="end" transform="rotate(-45 504.56 618.50)">May</text>
<line x1="524.75" y1="611.1" x2="524.75" y2="613.3000000000001" stroke="#777" stroke-width="0.7"/>
<text x="528.35" y="618.50" font-size="6.2" font-weight="normal" font-style="normal" fill="#303030" text-anchor="end" transform="rotate(-45 528.35 618.50)">Jun</text>
<line x1="548.54" y1="611.1" x2="548.54" y2="613.3000000000001" stroke="#777" stroke-width="0.7"/>
<text x="552.14" y="618.50" font-size="6.2" font-weight="normal" font-style="normal" fill="#303030" text-anchor="end" transform="rotate(-45 552.14 618.50)">Jul</text>
<line x1="572.33" y1="611.1" x2="572.33" y2="613.3000000000001" stroke="#777" stroke-width="0.7"/>
<text x="575.93" y="618.50" font-size="6.2" font-weight="normal" font-style="normal" fill="#303030" text-anchor="end" transform="rotate(-45 575.93 618.50)">Aug</text>
<line x1="596.12" y1="611.1" x2="596.12" y2="613.3000000000001" stroke="#777" stroke-width="0.7"/>
<text x="599.72" y="618.50" font-size="6.2" font-weight="normal" font-style="normal" fill="#303030" text-anchor="end" transform="rotate(-45 599.72 618.50)">Sep</text>
<line x1="619.91" y1="611.1" x2="619.91" y2="613.3000000000001" stroke="#777" stroke-width="0.7"/>
<text x="623.51" y="618.50" font-size="6.2" font-weight="normal" font-style="normal" fill="#303030" text-anchor="end" transform="rotate(-45 623.51 618.50)">Oct</text>
<line x1="643.70" y1="611.1" x2="643.70" y2="613.3000000000001" stroke="#777" stroke-width="0.7"/>
<text x="647.30" y="618.50" font-size="6.2" font-weight="normal" font-style="normal" fill="#303030" text-anchor="end" transform="rotate(-45 647.30 618.50)">Nov</text>
<line x1="667.49" y1="611.1" x2="667.49" y2="613.3000000000001" stroke="#777" stroke-width="0.7"/>
<text x="671.09" y="618.50" font-size="6.1" font-weight="bold" font-style="normal" fill="#0a0acc" text-anchor="end" transform="rotate(-45 671.09 618.50)">Dec</text>
<line x1="405.80" y1="373.2" x2="405.80" y2="395.9" stroke="#5a5a5a" stroke-width="1" shape-rendering="crispEdges"/>
<line x1="405.80" y1="433.0" x2="405.80" y2="482.5" stroke="#5a5a5a" stroke-width="1" shape-rendering="crispEdges"/>
<rect x="396.60" y="395.9" width="18.4" height="37.1" fill="#84D2F2" stroke="#111" stroke-width="0.8"/>
<line x1="396.60" y1="412.9" x2="415.00" y2="412.9" stroke="#000" stroke-width="1.1"/>
<line x1="429.59" y1="387.8" x2="429.59" y2="412.4" stroke="#5a5a5a" stroke-width="1" shape-rendering="crispEdges"/>
<line x1="429.59" y1="436.3" x2="429.59" y2="458.2" stroke="#5a5a5a" stroke-width="1" shape-rendering="crispEdges"/>
<rect x="420.39" y="412.4" width="18.4" height="23.9" fill="#84D2F2" stroke="#111" stroke-width="0.8"/>
<line x1="420.39" y1="423.7" x2="438.79" y2="423.7" stroke="#000" stroke-width="1.1"/>
<line x1="453.38" y1="380.8" x2="453.38" y2="398.6" stroke="#5a5a5a" stroke-width="1" shape-rendering="crispEdges"/>
<line x1="453.38" y1="425.0" x2="453.38" y2="462.0" stroke="#5a5a5a" stroke-width="1" shape-rendering="crispEdges"/>
<rect x="444.18" y="398.6" width="18.4" height="26.4" fill="#90EE90" stroke="#111" stroke-width="0.8"/>
<line x1="444.18" y1="409.7" x2="462.58" y2="409.7" stroke="#000" stroke-width="1.1"/>
<line x1="477.17" y1="415.4" x2="477.17" y2="426.8" stroke="#5a5a5a" stroke-width="1" shape-rendering="crispEdges"/>
<line x1="477.17" y1="472.5" x2="477.17" y2="531.0" stroke="#5a5a5a" stroke-width="1" shape-rendering="crispEdges"/>
<rect x="467.97" y="426.8" width="18.4" height="45.7" fill="#90EE90" stroke="#111" stroke-width="0.8"/>
<line x1="467.97" y1="451.4" x2="486.37" y2="451.4" stroke="#000" stroke-width="1.1"/>
<line x1="500.96" y1="438.6" x2="500.96" y2="486.8" stroke="#5a5a5a" stroke-width="1" shape-rendering="crispEdges"/>
<line x1="500.96" y1="541.3" x2="500.96" y2="583.2" stroke="#5a5a5a" stroke-width="1" shape-rendering="crispEdges"/>
<rect x="491.76" y="486.8" width="18.4" height="54.5" fill="#90EE90" stroke="#111" stroke-width="0.8"/>
<line x1="491.76" y1="523.4" x2="510.16" y2="523.4" stroke="#000" stroke-width="1.1"/>
<line x1="524.75" y1="473.7" x2="524.75" y2="528.0" stroke="#5a5a5a" stroke-width="1" shape-rendering="crispEdges"/>
<line x1="524.75" y1="573.4" x2="524.75" y2="586.2" stroke="#5a5a5a" stroke-width="1" shape-rendering="crispEdges"/>
<rect x="515.55" y="528.0" width="18.4" height="45.4" fill="#FA8072" stroke="#111" stroke-width="0.8"/>
<line x1="515.55" y1="555.3" x2="533.95" y2="555.3" stroke="#000" stroke-width="1.1"/>
<line x1="548.54" y1="537.3" x2="548.54" y2="558.4" stroke="#5a5a5a" stroke-width="1" shape-rendering="crispEdges"/>
<line x1="548.54" y1="575.4" x2="548.54" y2="589.5" stroke="#5a5a5a" stroke-width="1" shape-rendering="crispEdges"/>
<rect x="539.34" y="558.4" width="18.4" height="17.0" fill="#FA8072" stroke="#111" stroke-width="0.8"/>
<line x1="539.34" y1="568.2" x2="557.74" y2="568.2" stroke="#000" stroke-width="1.1"/>
<line x1="572.33" y1="545.5" x2="572.33" y2="555.6" stroke="#5a5a5a" stroke-width="1" shape-rendering="crispEdges"/>
<line x1="572.33" y1="579.5" x2="572.33" y2="591.3" stroke="#5a5a5a" stroke-width="1" shape-rendering="crispEdges"/>
<rect x="563.13" y="555.6" width="18.4" height="23.9" fill="#FA8072" stroke="#111" stroke-width="0.8"/>
<line x1="563.13" y1="569.2" x2="581.53" y2="569.2" stroke="#000" stroke-width="1.1"/>
<line x1="596.12" y1="530.2" x2="596.12" y2="559.4" stroke="#5a5a5a" stroke-width="1" shape-rendering="crispEdges"/>
<line x1="596.12" y1="579.5" x2="596.12" y2="590.0" stroke="#5a5a5a" stroke-width="1" shape-rendering="crispEdges"/>
<rect x="586.92" y="559.4" width="18.4" height="20.1" fill="#90EE90" stroke="#111" stroke-width="0.8"/>
<line x1="586.92" y1="571.2" x2="605.32" y2="571.2" stroke="#000" stroke-width="1.1"/>
<line x1="619.91" y1="410.4" x2="619.91" y2="472.0" stroke="#5a5a5a" stroke-width="1" shape-rendering="crispEdges"/>
<line x1="619.91" y1="574.0" x2="619.91" y2="586.0" stroke="#5a5a5a" stroke-width="1" shape-rendering="crispEdges"/>
<rect x="610.71" y="472.0" width="18.4" height="102.0" fill="#90EE90" stroke="#111" stroke-width="0.8"/>
<line x1="610.71" y1="516.4" x2="629.11" y2="516.4" stroke="#000" stroke-width="1.1"/>
<line x1="643.70" y1="392.8" x2="643.70" y2="424.5" stroke="#5a5a5a" stroke-width="1" shape-rendering="crispEdges"/>
<line x1="643.70" y1="468.5" x2="643.70" y2="527.2" stroke="#5a5a5a" stroke-width="1" shape-rendering="crispEdges"/>
<rect x="634.50" y="424.5" width="18.4" height="44.0" fill="#90EE90" stroke="#111" stroke-width="0.8"/>
<line x1="634.50" y1="442.8" x2="652.90" y2="442.8" stroke="#000" stroke-width="1.1"/>
<line x1="667.49" y1="378.3" x2="667.49" y2="397.4" stroke="#5a5a5a" stroke-width="1" shape-rendering="crispEdges"/>
<line x1="667.49" y1="435.3" x2="667.49" y2="480.3" stroke="#5a5a5a" stroke-width="1" shape-rendering="crispEdges"/>
<rect x="658.29" y="397.4" width="18.4" height="37.9" fill="#84D2F2" stroke="#111" stroke-width="0.8"/>
<line x1="658.29" y1="412.2" x2="676.69" y2="412.2" stroke="#000" stroke-width="1.1"/>
<circle cx="453.38" cy="475.5" r="1.9" fill="#d40000"/>
<circle cx="453.38" cy="480.0" r="1.9" fill="#d40000"/>
<circle cx="548.54" cy="484.3" r="1.9" fill="#d40000"/>
<circle cx="548.54" cy="490.0" r="1.9" fill="#d40000"/>
<circle cx="548.54" cy="498.0" r="1.9" fill="#d40000"/>
<circle cx="548.54" cy="515.3" r="1.9" fill="#d40000"/>
<circle cx="548.54" cy="525.2" r="1.9" fill="#d40000"/>
<circle cx="548.54" cy="531.4" r="1.9" fill="#d40000"/>
<circle cx="572.33" cy="510.0" r="1.9" fill="#d40000"/>
<circle cx="572.33" cy="517.3" r="1.9" fill="#d40000"/>
<circle cx="596.12" cy="417.0" r="1.9" fill="#d40000"/>
<circle cx="596.12" cy="439.2" r="1.9" fill="#d40000"/>
<circle cx="596.12" cy="482.2" r="1.9" fill="#d40000"/>
<circle cx="596.12" cy="504.8" r="1.9" fill="#d40000"/>
<circle cx="643.70" cy="535.5" r="1.9" fill="#d40000"/>
<circle cx="401.0" cy="378.3" r="1.35" fill="#df1033" fill-opacity="0.9"/>
<circle cx="402.2" cy="382.1" r="1.35" fill="#de1137" fill-opacity="0.9"/>
<circle cx="407.0" cy="385.1" r="1.35" fill="#dd1139" fill-opacity="0.9"/>
<circle cx="405.1" cy="386.6" r="1.35" fill="#dd113b" fill-opacity="0.9"/>
<circle cx="405.9" cy="387.6" r="1.35" fill="#dc123b" fill-opacity="0.9"/>
<circle cx="409.9" cy="389.4" r="1.35" fill="#dc123d" fill-opacity="0.9"/>
<circle cx="402.0" cy="390.7" r="1.35" fill="#db123e" fill-opacity="0.9"/>
<circle cx="403.0" cy="393.8" r="1.35" fill="#db1241" fill-opacity="0.9"/>
<circle cx="407.4" cy="394.3" r="1.35" fill="#da1341" fill-opacity="0.9"/>
<circle cx="400.8" cy="395.8" r="1.35" fill="#da1343" fill-opacity="0.9"/>
<circle cx="400.6" cy="395.1" r="1.35" fill="#da1342" fill-opacity="0.9"/>
<circle cx="404.3" cy="398.2" r="1.35" fill="#d91345" fill-opacity="0.9"/>
<circle cx="401.7" cy="398.2" r="1.35" fill="#d91345" fill-opacity="0.9"/>
<circle cx="404.3" cy="400.8" r="1.35" fill="#d91447" fill-opacity="0.9"/>
<circle cx="402.9" cy="402.7" r="1.35" fill="#d81449" fill-opacity="0.9"/>
<circle cx="406.7" cy="403.7" r="1.35" fill="#d8144a" fill-opacity="0.9"/>
<circle cx="406.7" cy="406.5" r="1.35" fill="#d7144c" fill-opacity="0.9"/>
<circle cx="402.7" cy="407.4" r="1.35" fill="#d7154d" fill-opacity="0.9"/>
<circle cx="407.1" cy="409.0" r="1.35" fill="#d6154e" fill-opacity="0.9"/>
<circle cx="405.5" cy="411.4" r="1.35" fill="#d61550" fill-opacity="0.9"/>
<circle cx="402.0" cy="411.1" r="1.35" fill="#d61550" fill-opacity="0.9"/>
<circle cx="410.3" cy="415.0" r="1.35" fill="#d41653" fill-opacity="0.9"/>
<circle cx="403.1" cy="416.1" r="1.35" fill="#d41654" fill-opacity="0.9"/>
<circle cx="402.2" cy="417.4" r="1.35" fill="#d41656" fill-opacity="0.9"/>
<circle cx="401.6" cy="420.3" r="1.35" fill="#d31658" fill-opacity="0.9"/>
<circle cx="407.2" cy="420.9" r="1.35" fill="#d21658" fill-opacity="0.9"/>
<circle cx="409.7" cy="424.6" r="1.35" fill="#d1165b" fill-opacity="0.9"/>
<circle cx="408.7" cy="425.5" r="1.35" fill="#d1165c" fill-opacity="0.9"/>
<circle cx="404.8" cy="426.9" r="1.35" fill="#d0165d" fill-opacity="0.9"/>
<circle cx="403.3" cy="429.8" r="1.35" fill="#cf155f" fill-opacity="0.9"/>
<circle cx="400.7" cy="430.9" r="1.35" fill="#cf1560" fill-opacity="0.9"/>
<circle cx="407.3" cy="432.2" r="1.35" fill="#ce1561" fill-opacity="0.9"/>
<circle cx="406.4" cy="433.9" r="1.35" fill="#ce1562" fill-opacity="0.9"/>
<circle cx="404.2" cy="433.4" r="1.35" fill="#ce1562" fill-opacity="0.9"/>
<circle cx="407.3" cy="437.3" r="1.35" fill="#cc1565" fill-opacity="0.9"/>
<circle cx="405.2" cy="438.9" r="1.35" fill="#cc1566" fill-opacity="0.9"/>
<circle cx="410.3" cy="443.8" r="1.35" fill="#ca156a" fill-opacity="0.9"/>
<circle cx="408.2" cy="449.4" r="1.35" fill="#c8156e" fill-opacity="0.9"/>
<circle cx="403.2" cy="454.3" r="1.35" fill="#c61472" fill-opacity="0.9"/>
<circle cx="410.0" cy="461.4" r="1.35" fill="#c31477" fill-opacity="0.9"/>
<circle cx="401.1" cy="468.4" r="1.35" fill="#c0137c" fill-opacity="0.9"/>
<circle cx="406.1" cy="476.5" r="1.35" fill="#bb1281" fill-opacity="0.9"/>
<circle cx="434.4" cy="393.8" r="1.35" fill="#db1241" fill-opacity="0.9"/>
<circle cx="426.6" cy="397.4" r="1.35" fill="#d91344" fill-opacity="0.9"/>
<circle cx="433.5" cy="399.6" r="1.35" fill="#d91346" fill-opacity="0.9"/>
<circle cx="424.5" cy="403.5" r="1.35" fill="#d81449" fill-opacity="0.9"/>
<circle cx="427.1" cy="403.4" r="1.35" fill="#d81449" fill-opacity="0.9"/>
<circle cx="426.8" cy="406.3" r="1.35" fill="#d7144c" fill-opacity="0.9"/>
<circle cx="432.1" cy="408.7" r="1.35" fill="#d6154e" fill-opacity="0.9"/>
<circle cx="434.2" cy="408.1" r="1.35" fill="#d6154d" fill-opacity="0.9"/>
<circle cx="432.1" cy="409.4" r="1.35" fill="#d6154f" fill-opacity="0.9"/>
<circle cx="427.8" cy="411.6" r="1.35" fill="#d51550" fill-opacity="0.9"/>
<circle cx="433.5" cy="412.4" r="1.35" fill="#d51551" fill-opacity="0.9"/>
<circle cx="427.8" cy="413.8" r="1.35" fill="#d51652" fill-opacity="0.9"/>
<circle cx="426.9" cy="415.3" r="1.35" fill="#d41654" fill-opacity="0.9"/>
<circle cx="433.8" cy="414.8" r="1.35" fill="#d51653" fill-opacity="0.9"/>
<circle cx="430.9" cy="416.2" r="1.35" fill="#d41655" fill-opacity="0.9"/>
<circle cx="431.6" cy="417.3" r="1.35" fill="#d41655" fill-opacity="0.9"/>
<circle cx="431.3" cy="417.8" r="1.35" fill="#d41656" fill-opacity="0.9"/>
<circle cx="434.6" cy="420.9" r="1.35" fill="#d21658" fill-opacity="0.9"/>
<circle cx="429.3" cy="421.7" r="1.35" fill="#d21659" fill-opacity="0.9"/>
<circle cx="433.1" cy="422.6" r="1.35" fill="#d21659" fill-opacity="0.9"/>
<circle cx="431.6" cy="422.0" r="1.35" fill="#d21659" fill-opacity="0.9"/>
<circle cx="433.3" cy="425.1" r="1.35" fill="#d1165b" fill-opacity="0.9"/>
<circle cx="428.9" cy="426.1" r="1.35" fill="#d1165c" fill-opacity="0.9"/>
<circle cx="431.9" cy="426.6" r="1.35" fill="#d0165d" fill-opacity="0.9"/>
<circle cx="430.3" cy="428.5" r="1.35" fill="#d0155e" fill-opacity="0.9"/>
<circle cx="427.6" cy="429.0" r="1.35" fill="#cf155e" fill-opacity="0.9"/>
<circle cx="426.6" cy="429.6" r="1.35" fill="#cf155f" fill-opacity="0.9"/>
<circle cx="430.9" cy="430.6" r="1.35" fill="#cf1560" fill-opacity="0.9"/>
<circle cx="425.2" cy="432.1" r="1.35" fill="#ce1561" fill-opacity="0.9"/>
<circle cx="433.9" cy="432.8" r="1.35" fill="#ce1561" fill-opacity="0.9"/>
<circle cx="425.9" cy="434.7" r="1.35" fill="#cd1563" fill-opacity="0.9"/>
<circle cx="424.7" cy="436.9" r="1.35" fill="#cd1564" fill-opacity="0.9"/>
<circle cx="425.5" cy="436.9" r="1.35" fill="#cd1564" fill-opacity="0.9"/>
<circle cx="434.1" cy="437.8" r="1.35" fill="#cc1565" fill-opacity="0.9"/>
<circle cx="428.0" cy="438.4" r="1.35" fill="#cc1566" fill-opacity="0.9"/>
<circle cx="425.9" cy="438.6" r="1.35" fill="#cc1566" fill-opacity="0.9"/>
<circle cx="424.7" cy="441.0" r="1.35" fill="#cb1568" fill-opacity="0.9"/>
<circle cx="424.8" cy="442.9" r="1.35" fill="#ca1569" fill-opacity="0.9"/>
<circle cx="431.6" cy="446.3" r="1.35" fill="#c9156c" fill-opacity="0.9"/>
<circle cx="431.0" cy="448.7" r="1.35" fill="#c8156d" fill-opacity="0.9"/>
<circle cx="431.6" cy="451.6" r="1.35" fill="#c71470" fill-opacity="0.9"/>
<circle cx="432.1" cy="456.4" r="1.35" fill="#c51473" fill-opacity="0.9"/>
<circle cx="453.8" cy="384.3" r="1.35" fill="#dd1139" fill-opacity="0.9"/>
<circle cx="450.4" cy="388.4" r="1.35" fill="#dc123c" fill-opacity="0.9"/>
<circle cx="457.1" cy="389.8" r="1.35" fill="#dc123d" fill-opacity="0.9"/>
<circle cx="449.1" cy="392.4" r="1.35" fill="#db1240" fill-opacity="0.9"/>
<circle cx="456.7" cy="393.7" r="1.35" fill="#db1241" fill-opacity="0.9"/>
<circle cx="450.0" cy="395.0" r="1.35" fill="#da1342" fill-opacity="0.9"/>
<circle cx="448.2" cy="394.1" r="1.35" fill="#da1341" fill-opacity="0.9"/>
<circle cx="450.3" cy="397.0" r="1.35" fill="#da1344" fill-opacity="0.9"/>
<circle cx="456.1" cy="398.0" r="1.35" fill="#d91345" fill-opacity="0.9"/>
<circle cx="458.3" cy="398.9" r="1.35" fill="#d91345" fill-opacity="0.9"/>
<circle cx="448.2" cy="397.7" r="1.35" fill="#d91344" fill-opacity="0.9"/>
<circle cx="453.3" cy="399.0" r="1.35" fill="#d91345" fill-opacity="0.9"/>
<circle cx="453.3" cy="399.8" r="1.35" fill="#d91346" fill-opacity="0.9"/>
<circle cx="456.5" cy="400.7" r="1.35" fill="#d91447" fill-opacity="0.9"/>
<circle cx="450.1" cy="403.7" r="1.35" fill="#d8144a" fill-opacity="0.9"/>
<circle cx="453.3" cy="404.6" r="1.35" fill="#d7144a" fill-opacity="0.9"/>
<circle cx="451.8" cy="405.3" r="1.35" fill="#d7144b" fill-opacity="0.9"/>
<circle cx="456.8" cy="406.8" r="1.35" fill="#d7144c" fill-opacity="0.9"/>
<circle cx="450.9" cy="407.4" r="1.35" fill="#d7154d" fill-opacity="0.9"/>
<circle cx="458.0" cy="407.6" r="1.35" fill="#d7154d" fill-opacity="0.9"/>
<circle cx="451.1" cy="408.2" r="1.35" fill="#d6154e" fill-opacity="0.9"/>
<circle cx="450.4" cy="409.5" r="1.35" fill="#d6154f" fill-opacity="0.9"/>
<circle cx="455.5" cy="412.5" r="1.35" fill="#d51551" fill-opacity="0.9"/>
<circle cx="453.4" cy="412.6" r="1.35" fill="#d51551" fill-opacity="0.9"/>
<circle cx="449.3" cy="414.4" r="1.35" fill="#d51653" fill-opacity="0.9"/>
<circle cx="454.8" cy="416.1" r="1.35" fill="#d41654" fill-opacity="0.9"/>
<circle cx="449.0" cy="416.6" r="1.35" fill="#d41655" fill-opacity="0.9"/>
<circle cx="456.4" cy="418.6" r="1.35" fill="#d31656" fill-opacity="0.9"/>
<circle cx="455.4" cy="420.1" r="1.35" fill="#d31658" fill-opacity="0.9"/>
<circle cx="456.4" cy="422.6" r="1.35" fill="#d21659" fill-opacity="0.9"/>
<circle cx="454.7" cy="423.2" r="1.35" fill="#d2165a" fill-opacity="0.9"/>
<circle cx="451.9" cy="424.6" r="1.35" fill="#d1165b" fill-opacity="0.9"/>
<circle cx="452.4" cy="426.4" r="1.35" fill="#d0165c" fill-opacity="0.9"/>
<circle cx="452.3" cy="426.1" r="1.35" fill="#d1165c" fill-opacity="0.9"/>
<circle cx="457.4" cy="428.5" r="1.35" fill="#d0155e" fill-opacity="0.9"/>
<circle cx="449.1" cy="430.2" r="1.35" fill="#cf155f" fill-opacity="0.9"/>
<circle cx="457.4" cy="431.7" r="1.35" fill="#ce1560" fill-opacity="0.9"/>
<circle cx="448.4" cy="436.2" r="1.35" fill="#cd1564" fill-opacity="0.9"/>
<circle cx="450.3" cy="440.6" r="1.35" fill="#cb1567" fill-opacity="0.9"/>
<circle cx="450.9" cy="446.6" r="1.35" fill="#c9156c" fill-opacity="0.9"/>
<circle cx="457.6" cy="451.4" r="1.35" fill="#c7146f" fill-opacity="0.9"/>
<circle cx="453.4" cy="458.9" r="1.35" fill="#c41475" fill-opacity="0.9"/>
<circle cx="452.1" cy="475.5" r="1.35" fill="#bb1381" fill-opacity="0.9"/>
<circle cx="457.4" cy="480.0" r="1.35" fill="#b91283" fill-opacity="0.9"/>
<circle cx="474.0" cy="417.7" r="1.35" fill="#d41656" fill-opacity="0.9"/>
<circle cx="478.6" cy="420.1" r="1.35" fill="#d31658" fill-opacity="0.9"/>
<circle cx="473.1" cy="421.5" r="1.35" fill="#d21659" fill-opacity="0.9"/>
<circle cx="474.1" cy="423.0" r="1.35" fill="#d2165a" fill-opacity="0.9"/>
<circle cx="476.0" cy="423.8" r="1.35" fill="#d1165a" fill-opacity="0.9"/>
<circle cx="472.3" cy="424.3" r="1.35" fill="#d1165b" fill-opacity="0.9"/>
<circle cx="476.1" cy="424.2" r="1.35" fill="#d1165b" fill-opacity="0.9"/>
<circle cx="480.2" cy="424.8" r="1.35" fill="#d1165b" fill-opacity="0.9"/>
<circle cx="479.2" cy="424.9" r="1.35" fill="#d1165b" fill-opacity="0.9"/>
<circle cx="477.2" cy="427.1" r="1.35" fill="#d0165d" fill-opacity="0.9"/>
<circle cx="478.5" cy="427.2" r="1.35" fill="#d0165d" fill-opacity="0.9"/>
<circle cx="476.8" cy="429.7" r="1.35" fill="#cf155f" fill-opacity="0.9"/>
<circle cx="473.4" cy="430.7" r="1.35" fill="#cf1560" fill-opacity="0.9"/>
<circle cx="478.2" cy="433.7" r="1.35" fill="#ce1562" fill-opacity="0.9"/>
<circle cx="476.2" cy="436.8" r="1.35" fill="#cd1564" fill-opacity="0.9"/>
<circle cx="479.7" cy="438.7" r="1.35" fill="#cc1566" fill-opacity="0.9"/>
<circle cx="481.4" cy="440.0" r="1.35" fill="#cb1567" fill-opacity="0.9"/>
<circle cx="476.4" cy="443.1" r="1.35" fill="#ca1569" fill-opacity="0.9"/>
<circle cx="477.9" cy="446.5" r="1.35" fill="#c9156c" fill-opacity="0.9"/>
<circle cx="479.8" cy="447.3" r="1.35" fill="#c9156c" fill-opacity="0.9"/>
<circle cx="476.4" cy="449.5" r="1.35" fill="#c8156e" fill-opacity="0.9"/>
<circle cx="474.3" cy="451.9" r="1.35" fill="#c71470" fill-opacity="0.9"/>
<circle cx="479.5" cy="454.9" r="1.35" fill="#c61472" fill-opacity="0.9"/>
<circle cx="481.1" cy="457.2" r="1.35" fill="#c51474" fill-opacity="0.9"/>
<circle cx="480.0" cy="457.6" r="1.35" fill="#c51474" fill-opacity="0.9"/>
<circle cx="479.3" cy="459.6" r="1.35" fill="#c41476" fill-opacity="0.9"/>
<circle cx="480.8" cy="461.8" r="1.35" fill="#c31477" fill-opacity="0.9"/>
<circle cx="479.0" cy="464.0" r="1.35" fill="#c21479" fill-opacity="0.9"/>
<circle cx="478.6" cy="466.5" r="1.35" fill="#c1147b" fill-opacity="0.9"/>
<circle cx="476.7" cy="467.7" r="1.35" fill="#c0137b" fill-opacity="0.9"/>
<circle cx="475.2" cy="470.1" r="1.35" fill="#bf137d" fill-opacity="0.9"/>
<circle cx="478.5" cy="471.8" r="1.35" fill="#be137e" fill-opacity="0.9"/>
<circle cx="473.0" cy="474.1" r="1.35" fill="#bc1380" fill-opacity="0.9"/>
<circle cx="476.3" cy="474.8" r="1.35" fill="#bc1380" fill-opacity="0.9"/>
<circle cx="480.1" cy="475.8" r="1.35" fill="#bb1381" fill-opacity="0.9"/>
<circle cx="479.4" cy="481.3" r="1.35" fill="#b81284" fill-opacity="0.9"/>
<circle cx="478.5" cy="483.9" r="1.35" fill="#b61286" fill-opacity="0.9"/>
<circle cx="474.6" cy="490.3" r="1.35" fill="#b3118a" fill-opacity="0.9"/>
<circle cx="476.4" cy="498.6" r="1.35" fill="#ae1090" fill-opacity="0.9"/>
<circle cx="476.7" cy="506.3" r="1.35" fill="#a90f95" fill-opacity="0.9"/>
<circle cx="478.4" cy="515.4" r="1.35" fill="#a2109d" fill-opacity="0.9"/>
<circle cx="476.2" cy="525.1" r="1.35" fill="#9a11a7" fill-opacity="0.9"/>
<circle cx="505.5" cy="451.3" r="1.35" fill="#c7146f" fill-opacity="0.9"/>
<circle cx="501.2" cy="459.7" r="1.35" fill="#c41476" fill-opacity="0.9"/>
<circle cx="498.0" cy="463.1" r="1.35" fill="#c31478" fill-opacity="0.9"/>
<circle cx="504.1" cy="468.4" r="1.35" fill="#c0137c" fill-opacity="0.9"/>
<circle cx="499.8" cy="472.2" r="1.35" fill="#bd137e" fill-opacity="0.9"/>
<circle cx="498.0" cy="474.4" r="1.35" fill="#bc1380" fill-opacity="0.9"/>
<circle cx="497.1" cy="477.4" r="1.35" fill="#ba1282" fill-opacity="0.9"/>
<circle cx="503.8" cy="481.2" r="1.35" fill="#b81284" fill-opacity="0.9"/>
<circle cx="504.2" cy="481.3" r="1.35" fill="#b81284" fill-opacity="0.9"/>
<circle cx="502.4" cy="484.8" r="1.35" fill="#b61287" fill-opacity="0.9"/>
<circle cx="500.6" cy="486.0" r="1.35" fill="#b51187" fill-opacity="0.9"/>
<circle cx="501.6" cy="491.0" r="1.35" fill="#b2118b" fill-opacity="0.9"/>
<circle cx="498.1" cy="494.8" r="1.35" fill="#b0108d" fill-opacity="0.9"/>
<circle cx="505.8" cy="497.3" r="1.35" fill="#ae108f" fill-opacity="0.9"/>
<circle cx="499.4" cy="499.8" r="1.35" fill="#ad1090" fill-opacity="0.9"/>
<circle cx="502.4" cy="504.4" r="1.35" fill="#aa0f93" fill-opacity="0.9"/>
<circle cx="504.3" cy="507.8" r="1.35" fill="#a80f96" fill-opacity="0.9"/>
<circle cx="504.2" cy="511.7" r="1.35" fill="#a5109a" fill-opacity="0.9"/>
<circle cx="500.6" cy="514.7" r="1.35" fill="#a3109d" fill-opacity="0.9"/>
<circle cx="498.8" cy="518.5" r="1.35" fill="#a010a0" fill-opacity="0.9"/>
<circle cx="501.5" cy="522.4" r="1.35" fill="#9c11a4" fill-opacity="0.9"/>
<circle cx="497.1" cy="524.3" r="1.35" fill="#9b11a6" fill-opacity="0.9"/>
<circle cx="504.4" cy="525.7" r="1.35" fill="#9a12a8" fill-opacity="0.9"/>
<circle cx="499.4" cy="528.7" r="1.35" fill="#9712ab" fill-opacity="0.9"/>
<circle cx="504.6" cy="528.7" r="1.35" fill="#9712ab" fill-opacity="0.9"/>
<circle cx="498.5" cy="531.5" r="1.35" fill="#9512ae" fill-opacity="0.9"/>
<circle cx="499.7" cy="532.5" r="1.35" fill="#9413af" fill-opacity="0.9"/>
<circle cx="498.4" cy="535.1" r="1.35" fill="#9213b1" fill-opacity="0.9"/>
<circle cx="500.2" cy="535.3" r="1.35" fill="#9213b2" fill-opacity="0.9"/>
<circle cx="497.7" cy="539.1" r="1.35" fill="#8f13b5" fill-opacity="0.9"/>
<circle cx="495.8" cy="539.2" r="1.35" fill="#8f14b6" fill-opacity="0.9"/>
<circle cx="503.3" cy="540.2" r="1.35" fill="#8e14b7" fill-opacity="0.9"/>
<circle cx="498.7" cy="541.1" r="1.35" fill="#8d14b7" fill-opacity="0.9"/>
<circle cx="498.3" cy="542.3" r="1.35" fill="#8c14b9" fill-opacity="0.9"/>
<circle cx="498.9" cy="543.1" r="1.35" fill="#8b14b9" fill-opacity="0.9"/>
<circle cx="500.7" cy="546.6" r="1.35" fill="#8515bc" fill-opacity="0.9"/>
<circle cx="500.2" cy="549.9" r="1.35" fill="#8015bf" fill-opacity="0.9"/>
<circle cx="502.4" cy="554.7" r="1.35" fill="#7816c3" fill-opacity="0.9"/>
<circle cx="502.6" cy="558.8" r="1.35" fill="#7117c7" fill-opacity="0.9"/>
<circle cx="499.5" cy="564.4" r="1.35" fill="#6718cb" fill-opacity="0.9"/>
<circle cx="505.4" cy="571.0" r="1.35" fill="#5c19d1" fill-opacity="0.9"/>
<circle cx="504.6" cy="579.7" r="1.35" fill="#4918d6" fill-opacity="0.9"/>
<circle cx="524.7" cy="486.4" r="1.35" fill="#b51188" fill-opacity="0.9"/>
<circle cx="524.7" cy="497.1" r="1.35" fill="#af108f" fill-opacity="0.9"/>
<circle cx="525.2" cy="503.1" r="1.35" fill="#ab1093" fill-opacity="0.9"/>
<circle cx="528.5" cy="507.5" r="1.35" fill="#a80f95" fill-opacity="0.9"/>
<circle cx="519.6" cy="509.9" r="1.35" fill="#a70f98" fill-opacity="0.9"/>
<circle cx="528.3" cy="515.1" r="1.35" fill="#a2109d" fill-opacity="0.9"/>
<circle cx="524.4" cy="517.8" r="1.35" fill="#a010a0" fill-opacity="0.9"/>
<circle cx="525.4" cy="519.2" r="1.35" fill="#9f11a1" fill-opacity="0.9"/>
<circle cx="526.5" cy="521.9" r="1.35" fill="#9d11a4" fill-opacity="0.9"/>
<circle cx="528.3" cy="526.7" r="1.35" fill="#9912a9" fill-opacity="0.9"/>
<circle cx="523.4" cy="528.4" r="1.35" fill="#9812aa" fill-opacity="0.9"/>
<circle cx="523.9" cy="530.0" r="1.35" fill="#9612ac" fill-opacity="0.9"/>
<circle cx="529.5" cy="532.2" r="1.35" fill="#9412ae" fill-opacity="0.9"/>
<circle cx="520.3" cy="534.9" r="1.35" fill="#9213b1" fill-opacity="0.9"/>
<circle cx="526.2" cy="537.8" r="1.35" fill="#9013b4" fill-opacity="0.9"/>
<circle cx="526.2" cy="541.7" r="1.35" fill="#8d14b8" fill-opacity="0.9"/>
<circle cx="519.8" cy="543.2" r="1.35" fill="#8b14ba" fill-opacity="0.9"/>
<circle cx="525.9" cy="545.4" r="1.35" fill="#8714bb" fill-opacity="0.9"/>
<circle cx="526.6" cy="549.8" r="1.35" fill="#8015bf" fill-opacity="0.9"/>
<circle cx="529.2" cy="552.1" r="1.35" fill="#7c16c1" fill-opacity="0.9"/>
<circle cx="523.0" cy="553.2" r="1.35" fill="#7a16c2" fill-opacity="0.9"/>
<circle cx="529.8" cy="557.1" r="1.35" fill="#7416c5" fill-opacity="0.9"/>
<circle cx="524.9" cy="558.1" r="1.35" fill="#7217c6" fill-opacity="0.9"/>
<circle cx="524.6" cy="560.3" r="1.35" fill="#6e17c8" fill-opacity="0.9"/>
<circle cx="528.9" cy="561.7" r="1.35" fill="#6c17c9" fill-opacity="0.9"/>
<circle cx="519.9" cy="564.0" r="1.35" fill="#6818cb" fill-opacity="0.9"/>
<circle cx="527.0" cy="565.5" r="1.35" fill="#6618cc" fill-opacity="0.9"/>
<circle cx="526.1" cy="567.3" r="1.35" fill="#6218ce" fill-opacity="0.9"/>
<circle cx="523.1" cy="567.5" r="1.35" fill="#6218ce" fill-opacity="0.9"/>
<circle cx="528.5" cy="570.4" r="1.35" fill="#5d19d0" fill-opacity="0.9"/>
<circle cx="523.4" cy="571.8" r="1.35" fill="#5b19d1" fill-opacity="0.9"/>
<circle cx="524.5" cy="574.0" r="1.35" fill="#5619d3" fill-opacity="0.9"/>
<circle cx="525.0" cy="573.3" r="1.35" fill="#5819d3" fill-opacity="0.9"/>
<circle cx="527.6" cy="574.7" r="1.35" fill="#5419d3" fill-opacity="0.9"/>
<circle cx="521.7" cy="574.5" r="1.35" fill="#5519d3" fill-opacity="0.9"/>
<circle cx="524.1" cy="574.5" r="1.35" fill="#5519d3" fill-opacity="0.9"/>
<circle cx="523.9" cy="575.5" r="1.35" fill="#5318d4" fill-opacity="0.9"/>
<circle cx="525.3" cy="576.5" r="1.35" fill="#5018d4" fill-opacity="0.9"/>
<circle cx="528.1" cy="578.8" r="1.35" fill="#4b18d6" fill-opacity="0.9"/>
<circle cx="522.6" cy="579.6" r="1.35" fill="#4918d6" fill-opacity="0.9"/>
<circle cx="528.2" cy="582.6" r="1.35" fill="#4217d8" fill-opacity="0.9"/>
<circle cx="523.7" cy="584.1" r="1.35" fill="#3e17d8" fill-opacity="0.9"/>
<circle cx="551.9" cy="542.7" r="1.35" fill="#8c14b9" fill-opacity="0.9"/>
<circle cx="551.5" cy="545.5" r="1.35" fill="#8714bb" fill-opacity="0.9"/>
<circle cx="549.2" cy="548.4" r="1.35" fill="#8215be" fill-opacity="0.9"/>
<circle cx="546.0" cy="551.3" r="1.35" fill="#7d15c0" fill-opacity="0.9"/>
<circle cx="546.5" cy="552.1" r="1.35" fill="#7c16c1" fill-opacity="0.9"/>
<circle cx="547.7" cy="553.8" r="1.35" fill="#7916c2" fill-opacity="0.9"/>
<circle cx="546.7" cy="553.9" r="1.35" fill="#7916c2" fill-opacity="0.9"/>
<circle cx="547.8" cy="555.0" r="1.35" fill="#7716c3" fill-opacity="0.9"/>
<circle cx="550.0" cy="556.0" r="1.35" fill="#7516c4" fill-opacity="0.9"/>
<circle cx="553.1" cy="557.7" r="1.35" fill="#7317c6" fill-opacity="0.9"/>
<circle cx="543.9" cy="558.7" r="1.35" fill="#7117c7" fill-opacity="0.9"/>
<circle cx="549.2" cy="560.0" r="1.35" fill="#6f17c8" fill-opacity="0.9"/>
<circle cx="543.7" cy="559.2" r="1.35" fill="#7017c7" fill-opacity="0.9"/>
<circle cx="544.6" cy="561.7" r="1.35" fill="#6c17c9" fill-opacity="0.9"/>
<circle cx="551.8" cy="563.1" r="1.35" fill="#6a17ca" fill-opacity="0.9"/>
<circle cx="549.3" cy="563.2" r="1.35" fill="#6917ca" fill-opacity="0.9"/>
<circle cx="552.9" cy="562.9" r="1.35" fill="#6a17ca" fill-opacity="0.9"/>
<circle cx="548.0" cy="564.5" r="1.35" fill="#6718cb" fill-opacity="0.9"/>
<circle cx="543.5" cy="564.7" r="1.35" fill="#6718cc" fill-opacity="0.9"/>
<circle cx="547.4" cy="566.1" r="1.35" fill="#6518cd" fill-opacity="0.9"/>
<circle cx="549.5" cy="568.7" r="1.35" fill="#6018cf" fill-opacity="0.9"/>
<circle cx="553.1" cy="568.8" r="1.35" fill="#6018cf" fill-opacity="0.9"/>
<circle cx="553.5" cy="569.6" r="1.35" fill="#5f19d0" fill-opacity="0.9"/>
<circle cx="548.3" cy="570.6" r="1.35" fill="#5d19d1" fill-opacity="0.9"/>
<circle cx="547.6" cy="571.6" r="1.35" fill="#5b19d1" fill-opacity="0.9"/>
<circle cx="544.4" cy="571.6" r="1.35" fill="#5b19d1" fill-opacity="0.9"/>
<circle cx="550.0" cy="572.3" r="1.35" fill="#5a19d2" fill-opacity="0.9"/>
<circle cx="545.5" cy="573.0" r="1.35" fill="#5919d2" fill-opacity="0.9"/>
<circle cx="544.9" cy="573.8" r="1.35" fill="#5719d3" fill-opacity="0.9"/>
<circle cx="543.5" cy="574.3" r="1.35" fill="#5519d3" fill-opacity="0.9"/>
<circle cx="543.4" cy="575.1" r="1.35" fill="#5318d4" fill-opacity="0.9"/>
<circle cx="550.5" cy="574.7" r="1.35" fill="#5419d3" fill-opacity="0.9"/>
<circle cx="544.6" cy="575.9" r="1.35" fill="#5218d4" fill-opacity="0.9"/>
<circle cx="553.4" cy="575.7" r="1.35" fill="#5218d4" fill-opacity="0.9"/>
<circle cx="544.3" cy="577.0" r="1.35" fill="#4f18d5" fill-opacity="0.9"/>
<circle cx="552.4" cy="576.3" r="1.35" fill="#5118d4" fill-opacity="0.9"/>
<circle cx="544.7" cy="577.6" r="1.35" fill="#4e18d5" fill-opacity="0.9"/>
<circle cx="543.5" cy="578.6" r="1.35" fill="#4b18d5" fill-opacity="0.9"/>
<circle cx="550.8" cy="582.1" r="1.35" fill="#4317d7" fill-opacity="0.9"/>
<circle cx="545.9" cy="584.4" r="1.35" fill="#3e17d9" fill-opacity="0.9"/>
<circle cx="551.0" cy="586.0" r="1.35" fill="#3a17d9" fill-opacity="0.9"/>
<circle cx="545.3" cy="587.8" r="1.35" fill="#3516da" fill-opacity="0.9"/>
<circle cx="543.9" cy="484.3" r="1.35" fill="#b61286" fill-opacity="0.9"/>
<circle cx="551.4" cy="490.0" r="1.35" fill="#b3118a" fill-opacity="0.9"/>
<circle cx="550.8" cy="498.0" r="1.35" fill="#ae108f" fill-opacity="0.9"/>
<circle cx="552.2" cy="515.3" r="1.35" fill="#a2109d" fill-opacity="0.9"/>
<circle cx="550.9" cy="525.2" r="1.35" fill="#9a11a7" fill-opacity="0.9"/>
<circle cx="544.2" cy="531.4" r="1.35" fill="#9512ae" fill-opacity="0.9"/>
<circle cx="573.4" cy="548.4" r="1.35" fill="#8215be" fill-opacity="0.9"/>
<circle cx="570.3" cy="550.2" r="1.35" fill="#7f15bf" fill-opacity="0.9"/>
<circle cx="571.6" cy="550.7" r="1.35" fill="#7e15c0" fill-opacity="0.9"/>
<circle cx="576.4" cy="552.7" r="1.35" fill="#7b16c1" fill-opacity="0.9"/>
<circle cx="571.0" cy="551.8" r="1.35" fill="#7d16c1" fill-opacity="0.9"/>
<circle cx="574.3" cy="554.2" r="1.35" fill="#7916c3" fill-opacity="0.9"/>
<circle cx="573.4" cy="554.2" r="1.35" fill="#7916c3" fill-opacity="0.9"/>
<circle cx="576.4" cy="553.0" r="1.35" fill="#7b16c2" fill-opacity="0.9"/>
<circle cx="575.5" cy="553.5" r="1.35" fill="#7a16c2" fill-opacity="0.9"/>
<circle cx="570.1" cy="555.5" r="1.35" fill="#7616c4" fill-opacity="0.9"/>
<circle cx="567.1" cy="556.4" r="1.35" fill="#7516c5" fill-opacity="0.9"/>
<circle cx="569.9" cy="555.9" r="1.35" fill="#7616c4" fill-opacity="0.9"/>
<circle cx="571.5" cy="557.7" r="1.35" fill="#7317c6" fill-opacity="0.9"/>
<circle cx="573.2" cy="560.0" r="1.35" fill="#6f17c8" fill-opacity="0.9"/>
<circle cx="575.6" cy="560.0" r="1.35" fill="#6f17c8" fill-opacity="0.9"/>
<circle cx="576.4" cy="562.9" r="1.35" fill="#6a17ca" fill-opacity="0.9"/>
<circle cx="567.6" cy="563.3" r="1.35" fill="#6917ca" fill-opacity="0.9"/>
<circle cx="575.8" cy="563.6" r="1.35" fill="#6918cb" fill-opacity="0.9"/>
<circle cx="575.6" cy="565.6" r="1.35" fill="#6518cc" fill-opacity="0.9"/>
<circle cx="576.1" cy="567.4" r="1.35" fill="#6218ce" fill-opacity="0.9"/>
<circle cx="573.1" cy="568.4" r="1.35" fill="#6118cf" fill-opacity="0.9"/>
<circle cx="570.0" cy="570.1" r="1.35" fill="#5e19d0" fill-opacity="0.9"/>
<circle cx="576.0" cy="569.8" r="1.35" fill="#5e19d0" fill-opacity="0.9"/>
<circle cx="575.5" cy="572.4" r="1.35" fill="#5a19d2" fill-opacity="0.9"/>
<circle cx="574.3" cy="572.3" r="1.35" fill="#5a19d2" fill-opacity="0.9"/>
<circle cx="576.6" cy="574.0" r="1.35" fill="#5619d3" fill-opacity="0.9"/>
<circle cx="570.7" cy="574.9" r="1.35" fill="#5419d3" fill-opacity="0.9"/>
<circle cx="568.0" cy="575.4" r="1.35" fill="#5318d4" fill-opacity="0.9"/>
<circle cx="572.9" cy="576.3" r="1.35" fill="#5118d4" fill-opacity="0.9"/>
<circle cx="575.4" cy="578.2" r="1.35" fill="#4c18d5" fill-opacity="0.9"/>
<circle cx="569.2" cy="579.6" r="1.35" fill="#4918d6" fill-opacity="0.9"/>
<circle cx="574.9" cy="580.2" r="1.35" fill="#4718d6" fill-opacity="0.9"/>
<circle cx="576.8" cy="579.7" r="1.35" fill="#4818d6" fill-opacity="0.9"/>
<circle cx="569.6" cy="579.4" r="1.35" fill="#4918d6" fill-opacity="0.9"/>
<circle cx="573.4" cy="579.3" r="1.35" fill="#4a18d6" fill-opacity="0.9"/>
<circle cx="574.2" cy="582.2" r="1.35" fill="#4317d7" fill-opacity="0.9"/>
<circle cx="572.0" cy="582.5" r="1.35" fill="#4217d8" fill-opacity="0.9"/>
<circle cx="569.3" cy="583.9" r="1.35" fill="#3f17d8" fill-opacity="0.9"/>
<circle cx="569.8" cy="584.1" r="1.35" fill="#3e17d8" fill-opacity="0.9"/>
<circle cx="574.9" cy="586.4" r="1.35" fill="#3916da" fill-opacity="0.9"/>
<circle cx="575.4" cy="589.2" r="1.35" fill="#3216db" fill-opacity="0.9"/>
<circle cx="571.9" cy="590.9" r="1.35" fill="#2e16dc" fill-opacity="0.9"/>
<circle cx="568.0" cy="510.0" r="1.35" fill="#a70f98" fill-opacity="0.9"/>
<circle cx="575.5" cy="517.3" r="1.35" fill="#a1109f" fill-opacity="0.9"/>
<circle cx="593.0" cy="538.3" r="1.35" fill="#9013b5" fill-opacity="0.9"/>
<circle cx="592.8" cy="541.7" r="1.35" fill="#8d14b8" fill-opacity="0.9"/>
<circle cx="591.8" cy="545.7" r="1.35" fill="#8715bc" fill-opacity="0.9"/>
<circle cx="591.5" cy="549.0" r="1.35" fill="#8115be" fill-opacity="0.9"/>
<circle cx="596.7" cy="551.1" r="1.35" fill="#7e15c0" fill-opacity="0.9"/>
<circle cx="600.0" cy="552.1" r="1.35" fill="#7c16c1" fill-opacity="0.9"/>
<circle cx="595.7" cy="553.7" r="1.35" fill="#7916c2" fill-opacity="0.9"/>
<circle cx="600.8" cy="555.5" r="1.35" fill="#7616c4" fill-opacity="0.9"/>
<circle cx="600.4" cy="556.0" r="1.35" fill="#7516c4" fill-opacity="0.9"/>
<circle cx="591.6" cy="557.4" r="1.35" fill="#7316c5" fill-opacity="0.9"/>
<circle cx="597.1" cy="558.6" r="1.35" fill="#7117c6" fill-opacity="0.9"/>
<circle cx="595.1" cy="561.0" r="1.35" fill="#6d17c8" fill-opacity="0.9"/>
<circle cx="592.2" cy="561.3" r="1.35" fill="#6d17c9" fill-opacity="0.9"/>
<circle cx="600.9" cy="562.9" r="1.35" fill="#6a17ca" fill-opacity="0.9"/>
<circle cx="593.6" cy="563.7" r="1.35" fill="#6918cb" fill-opacity="0.9"/>
<circle cx="596.8" cy="565.1" r="1.35" fill="#6618cc" fill-opacity="0.9"/>
<circle cx="597.6" cy="565.3" r="1.35" fill="#6618cc" fill-opacity="0.9"/>
<circle cx="600.9" cy="566.2" r="1.35" fill="#6418cd" fill-opacity="0.9"/>
<circle cx="597.9" cy="569.6" r="1.35" fill="#5f19d0" fill-opacity="0.9"/>
<circle cx="595.0" cy="569.2" r="1.35" fill="#5f18cf" fill-opacity="0.9"/>
<circle cx="595.6" cy="569.7" r="1.35" fill="#5e19d0" fill-opacity="0.9"/>
<circle cx="592.6" cy="571.9" r="1.35" fill="#5b19d2" fill-opacity="0.9"/>
<circle cx="601.0" cy="573.1" r="1.35" fill="#5819d2" fill-opacity="0.9"/>
<circle cx="601.2" cy="572.4" r="1.35" fill="#5a19d2" fill-opacity="0.9"/>
<circle cx="593.2" cy="574.2" r="1.35" fill="#5619d3" fill-opacity="0.9"/>
<circle cx="591.3" cy="574.4" r="1.35" fill="#5519d3" fill-opacity="0.9"/>
<circle cx="593.6" cy="575.6" r="1.35" fill="#5218d4" fill-opacity="0.9"/>
<circle cx="594.6" cy="575.2" r="1.35" fill="#5318d4" fill-opacity="0.9"/>
<circle cx="600.3" cy="576.0" r="1.35" fill="#5118d4" fill-opacity="0.9"/>
<circle cx="600.3" cy="579.1" r="1.35" fill="#4a18d6" fill-opacity="0.9"/>
<circle cx="599.6" cy="579.6" r="1.35" fill="#4918d6" fill-opacity="0.9"/>
<circle cx="591.4" cy="579.5" r="1.35" fill="#4918d6" fill-opacity="0.9"/>
<circle cx="599.1" cy="579.7" r="1.35" fill="#4918d6" fill-opacity="0.9"/>
<circle cx="598.3" cy="579.3" r="1.35" fill="#4a18d6" fill-opacity="0.9"/>
<circle cx="597.6" cy="580.9" r="1.35" fill="#4617d7" fill-opacity="0.9"/>
<circle cx="601.2" cy="580.7" r="1.35" fill="#4617d7" fill-opacity="0.9"/>
<circle cx="591.5" cy="582.8" r="1.35" fill="#4117d8" fill-opacity="0.9"/>
<circle cx="592.4" cy="583.4" r="1.35" fill="#4017d8" fill-opacity="0.9"/>
<circle cx="598.8" cy="584.7" r="1.35" fill="#3d17d9" fill-opacity="0.9"/>
<circle cx="600.7" cy="586.5" r="1.35" fill="#3816da" fill-opacity="0.9"/>
<circle cx="598.0" cy="586.5" r="1.35" fill="#3816da" fill-opacity="0.9"/>
<circle cx="594.0" cy="587.9" r="1.35" fill="#3516da" fill-opacity="0.9"/>
<circle cx="597.1" cy="417.0" r="1.35" fill="#d41655" fill-opacity="0.9"/>
<circle cx="598.8" cy="439.2" r="1.35" fill="#cc1566" fill-opacity="0.9"/>
<circle cx="592.0" cy="482.2" r="1.35" fill="#b71285" fill-opacity="0.9"/>
<circle cx="594.3" cy="504.8" r="1.35" fill="#aa0f94" fill-opacity="0.9"/>
<circle cx="618.0" cy="425.5" r="1.35" fill="#d1165c" fill-opacity="0.9"/>
<circle cx="624.1" cy="435.2" r="1.35" fill="#cd1563" fill-opacity="0.9"/>
<circle cx="615.9" cy="442.6" r="1.35" fill="#ca1569" fill-opacity="0.9"/>
<circle cx="624.9" cy="447.2" r="1.35" fill="#c9156c" fill-opacity="0.9"/>
<circle cx="615.3" cy="451.8" r="1.35" fill="#c71470" fill-opacity="0.9"/>
<circle cx="624.0" cy="455.6" r="1.35" fill="#c61473" fill-opacity="0.9"/>
<circle cx="621.7" cy="460.5" r="1.35" fill="#c41476" fill-opacity="0.9"/>
<circle cx="616.9" cy="462.2" r="1.35" fill="#c31478" fill-opacity="0.9"/>
<circle cx="619.7" cy="466.9" r="1.35" fill="#c0147b" fill-opacity="0.9"/>
<circle cx="617.7" cy="468.6" r="1.35" fill="#bf137c" fill-opacity="0.9"/>
<circle cx="617.4" cy="470.9" r="1.35" fill="#be137d" fill-opacity="0.9"/>
<circle cx="616.8" cy="477.3" r="1.35" fill="#ba1282" fill-opacity="0.9"/>
<circle cx="618.5" cy="479.8" r="1.35" fill="#b91283" fill-opacity="0.9"/>
<circle cx="625.0" cy="485.7" r="1.35" fill="#b51187" fill-opacity="0.9"/>
<circle cx="625.1" cy="489.8" r="1.35" fill="#b3118a" fill-opacity="0.9"/>
<circle cx="624.3" cy="494.1" r="1.35" fill="#b0118d" fill-opacity="0.9"/>
<circle cx="615.7" cy="496.5" r="1.35" fill="#af108e" fill-opacity="0.9"/>
<circle cx="617.7" cy="501.5" r="1.35" fill="#ac1092" fill-opacity="0.9"/>
<circle cx="624.0" cy="504.9" r="1.35" fill="#aa0f94" fill-opacity="0.9"/>
<circle cx="615.3" cy="511.1" r="1.35" fill="#a60f99" fill-opacity="0.9"/>
<circle cx="622.3" cy="515.1" r="1.35" fill="#a2109d" fill-opacity="0.9"/>
<circle cx="617.8" cy="519.5" r="1.35" fill="#9f11a1" fill-opacity="0.9"/>
<circle cx="624.9" cy="524.5" r="1.35" fill="#9b11a7" fill-opacity="0.9"/>
<circle cx="614.9" cy="529.7" r="1.35" fill="#9712ac" fill-opacity="0.9"/>
<circle cx="623.1" cy="536.4" r="1.35" fill="#9113b3" fill-opacity="0.9"/>
<circle cx="618.3" cy="541.0" r="1.35" fill="#8d14b7" fill-opacity="0.9"/>
<circle cx="616.2" cy="546.9" r="1.35" fill="#8515bd" fill-opacity="0.9"/>
<circle cx="614.7" cy="551.2" r="1.35" fill="#7e15c0" fill-opacity="0.9"/>
<circle cx="623.4" cy="556.9" r="1.35" fill="#7416c5" fill-opacity="0.9"/>
<circle cx="620.2" cy="562.0" r="1.35" fill="#6b17c9" fill-opacity="0.9"/>
<circle cx="616.6" cy="569.0" r="1.35" fill="#6018cf" fill-opacity="0.9"/>
<circle cx="619.2" cy="574.1" r="1.35" fill="#5619d3" fill-opacity="0.9"/>
<circle cx="624.2" cy="573.2" r="1.35" fill="#5819d2" fill-opacity="0.9"/>
<circle cx="617.0" cy="575.3" r="1.35" fill="#5318d4" fill-opacity="0.9"/>
<circle cx="620.7" cy="574.3" r="1.35" fill="#5519d3" fill-opacity="0.9"/>
<circle cx="616.1" cy="575.4" r="1.35" fill="#5318d4" fill-opacity="0.9"/>
<circle cx="616.6" cy="575.7" r="1.35" fill="#5218d4" fill-opacity="0.9"/>
<circle cx="622.7" cy="577.2" r="1.35" fill="#4f18d5" fill-opacity="0.9"/>
<circle cx="622.1" cy="579.9" r="1.35" fill="#4818d6" fill-opacity="0.9"/>
<circle cx="616.8" cy="580.4" r="1.35" fill="#4718d6" fill-opacity="0.9"/>
<circle cx="615.5" cy="581.9" r="1.35" fill="#4317d7" fill-opacity="0.9"/>
<circle cx="615.6" cy="584.8" r="1.35" fill="#3c17d9" fill-opacity="0.9"/>
<circle cx="639.1" cy="401.1" r="1.35" fill="#d81447" fill-opacity="0.9"/>
<circle cx="647.6" cy="406.0" r="1.35" fill="#d7144c" fill-opacity="0.9"/>
<circle cx="648.4" cy="408.9" r="1.35" fill="#d6154e" fill-opacity="0.9"/>
<circle cx="643.6" cy="411.4" r="1.35" fill="#d61550" fill-opacity="0.9"/>
<circle cx="643.8" cy="414.7" r="1.35" fill="#d51653" fill-opacity="0.9"/>
<circle cx="644.0" cy="417.0" r="1.35" fill="#d41655" fill-opacity="0.9"/>
<circle cx="644.1" cy="419.1" r="1.35" fill="#d31657" fill-opacity="0.9"/>
<circle cx="638.7" cy="420.2" r="1.35" fill="#d31658" fill-opacity="0.9"/>
<circle cx="648.6" cy="420.9" r="1.35" fill="#d21658" fill-opacity="0.9"/>
<circle cx="640.8" cy="422.1" r="1.35" fill="#d21659" fill-opacity="0.9"/>
<circle cx="640.4" cy="425.1" r="1.35" fill="#d1165b" fill-opacity="0.9"/>
<circle cx="639.6" cy="426.0" r="1.35" fill="#d1165c" fill-opacity="0.9"/>
<circle cx="641.1" cy="428.5" r="1.35" fill="#d0155e" fill-opacity="0.9"/>
<circle cx="647.0" cy="428.7" r="1.35" fill="#d0155e" fill-opacity="0.9"/>
<circle cx="638.8" cy="432.2" r="1.35" fill="#ce1561" fill-opacity="0.9"/>
<circle cx="639.5" cy="432.8" r="1.35" fill="#ce1561" fill-opacity="0.9"/>
<circle cx="645.8" cy="435.8" r="1.35" fill="#cd1564" fill-opacity="0.9"/>
<circle cx="640.5" cy="437.6" r="1.35" fill="#cc1565" fill-opacity="0.9"/>
<circle cx="638.7" cy="438.4" r="1.35" fill="#cc1566" fill-opacity="0.9"/>
<circle cx="644.7" cy="439.0" r="1.35" fill="#cc1566" fill-opacity="0.9"/>
<circle cx="644.5" cy="442.9" r="1.35" fill="#ca1569" fill-opacity="0.9"/>
<circle cx="643.9" cy="444.0" r="1.35" fill="#ca156a" fill-opacity="0.9"/>
<circle cx="645.8" cy="447.4" r="1.35" fill="#c9156c" fill-opacity="0.9"/>
<circle cx="639.6" cy="448.4" r="1.35" fill="#c8156d" fill-opacity="0.9"/>
<circle cx="647.5" cy="450.6" r="1.35" fill="#c7156f" fill-opacity="0.9"/>
<circle cx="646.0" cy="454.6" r="1.35" fill="#c61472" fill-opacity="0.9"/>
<circle cx="639.0" cy="455.9" r="1.35" fill="#c51473" fill-opacity="0.9"/>
<circle cx="639.8" cy="457.9" r="1.35" fill="#c51474" fill-opacity="0.9"/>
<circle cx="643.6" cy="460.8" r="1.35" fill="#c41477" fill-opacity="0.9"/>
<circle cx="643.7" cy="463.8" r="1.35" fill="#c21479" fill-opacity="0.9"/>
<circle cx="641.4" cy="464.9" r="1.35" fill="#c2147a" fill-opacity="0.9"/>
<circle cx="639.8" cy="468.5" r="1.35" fill="#bf137c" fill-opacity="0.9"/>
<circle cx="642.7" cy="468.8" r="1.35" fill="#bf137c" fill-opacity="0.9"/>
<circle cx="639.9" cy="470.3" r="1.35" fill="#be137d" fill-opacity="0.9"/>
<circle cx="644.7" cy="471.8" r="1.35" fill="#be137e" fill-opacity="0.9"/>
<circle cx="647.5" cy="476.8" r="1.35" fill="#bb1281" fill-opacity="0.9"/>
<circle cx="640.0" cy="481.6" r="1.35" fill="#b81285" fill-opacity="0.9"/>
<circle cx="644.5" cy="487.5" r="1.35" fill="#b41188" fill-opacity="0.9"/>
<circle cx="646.3" cy="493.1" r="1.35" fill="#b1118c" fill-opacity="0.9"/>
<circle cx="640.2" cy="502.2" r="1.35" fill="#ac1092" fill-opacity="0.9"/>
<circle cx="647.1" cy="510.7" r="1.35" fill="#a60f98" fill-opacity="0.9"/>
<circle cx="648.3" cy="522.1" r="1.35" fill="#9d11a4" fill-opacity="0.9"/>
<circle cx="642.5" cy="535.5" r="1.35" fill="#9213b2" fill-opacity="0.9"/>
<circle cx="671.9" cy="383.0" r="1.35" fill="#de1137" fill-opacity="0.9"/>
<circle cx="668.8" cy="387.1" r="1.35" fill="#dc113b" fill-opacity="0.9"/>
<circle cx="664.9" cy="388.4" r="1.35" fill="#dc123c" fill-opacity="0.9"/>
<circle cx="667.7" cy="389.7" r="1.35" fill="#dc123d" fill-opacity="0.9"/>
<circle cx="666.8" cy="392.4" r="1.35" fill="#db1240" fill-opacity="0.9"/>
<circle cx="672.2" cy="393.2" r="1.35" fill="#db1240" fill-opacity="0.9"/>
<circle cx="665.3" cy="393.3" r="1.35" fill="#db1240" fill-opacity="0.9"/>
<circle cx="665.5" cy="394.1" r="1.35" fill="#da1341" fill-opacity="0.9"/>
<circle cx="669.0" cy="395.3" r="1.35" fill="#da1342" fill-opacity="0.9"/>
<circle cx="663.5" cy="396.4" r="1.35" fill="#da1343" fill-opacity="0.9"/>
<circle cx="668.5" cy="398.6" r="1.35" fill="#d91345" fill-opacity="0.9"/>
<circle cx="672.2" cy="399.5" r="1.35" fill="#d91346" fill-opacity="0.9"/>
<circle cx="667.6" cy="401.2" r="1.35" fill="#d81447" fill-opacity="0.9"/>
<circle cx="665.1" cy="402.4" r="1.35" fill="#d81448" fill-opacity="0.9"/>
<circle cx="667.1" cy="403.9" r="1.35" fill="#d8144a" fill-opacity="0.9"/>
<circle cx="667.8" cy="403.4" r="1.35" fill="#d81449" fill-opacity="0.9"/>
<circle cx="663.8" cy="405.9" r="1.35" fill="#d7144b" fill-opacity="0.9"/>
<circle cx="663.6" cy="408.4" r="1.35" fill="#d6154e" fill-opacity="0.9"/>
<circle cx="663.7" cy="409.7" r="1.35" fill="#d6154f" fill-opacity="0.9"/>
<circle cx="665.3" cy="409.5" r="1.35" fill="#d6154f" fill-opacity="0.9"/>
<circle cx="666.5" cy="411.3" r="1.35" fill="#d61550" fill-opacity="0.9"/>
<circle cx="665.3" cy="413.6" r="1.35" fill="#d51652" fill-opacity="0.9"/>
<circle cx="664.8" cy="415.2" r="1.35" fill="#d41654" fill-opacity="0.9"/>
<circle cx="663.2" cy="417.8" r="1.35" fill="#d41656" fill-opacity="0.9"/>
<circle cx="668.0" cy="418.9" r="1.35" fill="#d31657" fill-opacity="0.9"/>
<circle cx="671.0" cy="421.9" r="1.35" fill="#d21659" fill-opacity="0.9"/>
<circle cx="668.6" cy="424.3" r="1.35" fill="#d1165b" fill-opacity="0.9"/>
<circle cx="668.2" cy="425.3" r="1.35" fill="#d1165c" fill-opacity="0.9"/>
<circle cx="669.1" cy="427.8" r="1.35" fill="#d0165d" fill-opacity="0.9"/>
<circle cx="664.4" cy="432.0" r="1.35" fill="#ce1561" fill-opacity="0.9"/>
<circle cx="669.7" cy="433.8" r="1.35" fill="#ce1562" fill-opacity="0.9"/>
<circle cx="667.1" cy="436.3" r="1.35" fill="#cd1564" fill-opacity="0.9"/>
<circle cx="668.0" cy="435.9" r="1.35" fill="#cd1564" fill-opacity="0.9"/>
<circle cx="668.7" cy="437.4" r="1.35" fill="#cc1565" fill-opacity="0.9"/>
<circle cx="667.2" cy="439.5" r="1.35" fill="#cc1566" fill-opacity="0.9"/>
<circle cx="665.5" cy="442.2" r="1.35" fill="#cb1568" fill-opacity="0.9"/>
<circle cx="664.8" cy="443.7" r="1.35" fill="#ca156a" fill-opacity="0.9"/>
<circle cx="664.6" cy="449.5" r="1.35" fill="#c8156e" fill-opacity="0.9"/>
<circle cx="667.6" cy="453.9" r="1.35" fill="#c61471" fill-opacity="0.9"/>
<circle cx="666.3" cy="461.1" r="1.35" fill="#c41477" fill-opacity="0.9"/>
<circle cx="668.4" cy="467.3" r="1.35" fill="#c0137b" fill-opacity="0.9"/>
<circle cx="662.4" cy="476.0" r="1.35" fill="#bb1381" fill-opacity="0.9"/>
<line x1="391.5" y1="486.5" x2="681.8" y2="486.5" stroke="#c42020" stroke-width="1.3" stroke-dasharray="3.8 2.6"/>
<polyline points="405.8,416.5 429.6,424.2 453.4,415.0 477.2,456.2 501.0,514.6 524.8,548.0 548.5,560.6 572.3,566.6 596.1,559.9 619.9,517.0 643.7,446.9 667.5,418.0" fill="none" stroke="#cc1212" stroke-width="1.2" stroke-linejoin="round"/>
<text x="536.90" y="346.20" font-size="9.83" font-weight="bold" font-style="normal" fill="#000" text-anchor="middle">Boxplot of Monthly Rainy Days in Majalaya (1981-2022)</text>
<text x="536.90" y="357.20" font-size="7.53" font-weight="normal" font-style="italic" fill="#000" text-anchor="middle">Overall Mean Rainy Days: 15.35 mm</text>
<text x="405.80" y="529.10" font-size="6.76" font-weight="normal" font-style="normal" fill="#c62222" text-anchor="start">Overall Mean = 15.35</text>
<text x="378.20" y="488.00" font-size="8.0" font-weight="normal" font-style="normal" fill="#000" text-anchor="middle" transform="rotate(-90 378.20 488.00)">Rainfall (mm)</text>
<text x="536.90" y="635.40" font-size="7.4" font-weight="normal" font-style="normal" fill="#000" text-anchor="middle">Month</text>
<text x="681.30" y="645.40" font-size="6.15" font-weight="normal" font-style="italic" fill="#000" text-anchor="end">Source: CHIRPS dataset</text>
</svg>
</body>
</html>
